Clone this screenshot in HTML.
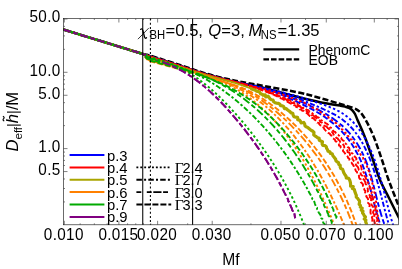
<!DOCTYPE html>
<html><head><meta charset="utf-8"><title>plot</title>
<style>html,body{margin:0;padding:0;background:#fff;}svg{display:block;will-change:transform;font-family:"Liberation Sans",sans-serif;}text{fill:#000;}</style></head><body>
<svg width="402" height="269" viewBox="0 0 402 269">
<rect x="0" y="0" width="402" height="269" fill="#fff"/>
<defs><clipPath id="cp"><rect x="63.50" y="18.50" width="335.10" height="206.30"/></clipPath><clipPath id="cph"><rect x="60" y="18" width="190" height="120"/></clipPath><clipPath id="cpt"><rect x="250" y="18" width="150" height="206.5"/></clipPath><clipPath id="cpx"><rect x="60" y="18" width="86" height="60"/><rect x="161" y="18" width="240" height="206.5"/></clipPath></defs>
<g clip-path="url(#cp)" fill="none" stroke-linejoin="round">
<path d="M63.30 29.50C69.42 31.38 86.72 36.72 100.00 40.80C113.28 44.88 128.83 49.57 143.00 54.00C157.17 58.43 175.50 64.33 185.00 67.40C194.50 70.47 195.00 70.83 200.00 72.40C205.00 73.97 210.00 75.43 215.00 76.80C220.00 78.17 225.00 79.40 230.00 80.60C235.00 81.80 240.00 82.93 245.00 84.00C250.00 85.07 250.83 84.75 260.00 87.00C269.17 89.25 290.00 94.97 300.00 97.50C310.00 100.03 313.33 100.85 320.00 102.20C326.67 103.55 335.77 104.85 340.00 105.60C344.23 106.35 343.82 106.27 345.40 106.70C346.98 107.13 348.30 107.55 349.50 108.20C350.70 108.85 351.68 109.63 352.60 110.60C353.52 111.57 354.22 112.53 355.00 114.00C355.78 115.47 356.13 116.73 357.30 119.40C358.47 122.07 360.55 126.57 362.00 130.00C363.45 133.43 364.17 135.00 366.00 140.00C367.83 145.00 370.67 153.33 373.00 160.00C375.33 166.67 377.33 173.67 380.00 180.00C382.67 186.33 385.92 191.83 389.00 198.00C392.08 204.17 396.33 212.67 398.50 217.00C400.67 221.33 401.42 222.83 402.00 224.00" stroke="#000000" stroke-width="2.50"/>
<path d="M63.30 29.50C69.42 31.38 86.72 36.72 100.00 40.80C113.28 44.88 134.67 51.53 143.00 54.00C151.33 56.47 143.00 53.48 150.00 55.60C157.00 57.72 176.67 64.02 185.00 66.70C193.33 69.38 195.00 70.15 200.00 71.70C205.00 73.25 210.00 74.70 215.00 76.00C220.00 77.30 225.83 78.57 230.00 79.50C234.17 80.43 235.00 80.65 240.00 81.60C245.00 82.55 250.00 83.33 260.00 85.20C270.00 87.07 290.00 90.67 300.00 92.80C310.00 94.93 313.43 96.18 320.00 98.00C326.57 99.82 333.93 102.07 339.40 103.70C344.87 105.33 349.70 106.68 352.80 107.80C355.90 108.92 356.47 109.33 358.00 110.40C359.53 111.47 360.37 111.95 362.00 114.20C363.63 116.45 365.63 119.60 367.80 123.90C369.97 128.20 372.63 133.98 375.00 140.00C377.37 146.02 379.73 153.33 382.00 160.00C384.27 166.67 385.85 172.42 388.60 180.00C391.35 187.58 396.27 199.67 398.50 205.50C400.73 211.33 401.42 213.42 402.00 215.00" stroke="#000000" stroke-width="2.50" stroke-dasharray="6 2.4"/>
<path d="M63.30 29.50C69.42 31.38 86.80 36.73 100.00 40.80C113.20 44.87 134.92 51.56 142.50 53.90C150.08 56.24 144.42 54.50 145.50 54.85C146.58 55.21 147.58 55.56 149.00 56.01C150.42 56.46 152.33 57.04 154.00 57.55C155.67 58.07 157.33 58.59 159.00 59.11C160.67 59.64 162.33 60.16 164.00 60.69C165.67 61.21 167.33 61.74 169.00 62.27C170.67 62.81 172.33 63.34 174.00 63.88C175.67 64.42 177.33 64.96 179.00 65.51C180.67 66.06 182.33 66.61 184.00 67.17C185.67 67.72 187.33 68.29 189.00 68.85C190.67 69.41 192.33 69.98 194.00 70.53C195.67 71.08 197.33 71.63 199.00 72.16C200.67 72.70 202.33 73.22 204.00 73.73C205.67 74.24 207.33 74.73 209.00 75.21C210.67 75.69 212.33 76.16 214.00 76.61C215.67 77.07 217.33 77.51 219.00 77.94C220.67 78.38 222.33 78.80 224.00 79.21C225.67 79.63 227.34 80.04 229.00 80.44C230.66 80.85 232.57 81.31 233.99 81.65C235.41 81.98 236.34 82.18 237.52 82.44C238.69 82.70 239.87 82.96 241.04 83.22C242.21 83.47 243.38 83.72 244.56 83.97C245.73 84.22 246.90 84.47 248.07 84.71C249.24 84.96 250.40 85.21 251.57 85.45C252.74 85.70 253.91 85.94 255.08 86.19C256.25 86.43 257.42 86.68 258.58 86.92C259.75 87.17 260.92 87.42 262.09 87.66C263.26 87.91 264.43 88.17 265.60 88.42C266.77 88.67 267.95 88.93 269.12 89.19C270.29 89.45 271.47 89.71 272.64 89.98C273.82 90.25 274.99 90.52 276.17 90.80C277.35 91.08 278.53 91.36 279.71 91.65C280.89 91.94 282.08 92.23 283.26 92.53C284.45 92.83 285.64 93.14 286.82 93.45C288.01 93.76 289.20 94.07 290.39 94.40C291.58 94.72 292.77 95.05 293.96 95.38C295.14 95.71 296.33 96.05 297.52 96.39C298.71 96.73 299.89 97.08 301.08 97.43C302.26 97.79 303.44 98.14 304.62 98.50C305.80 98.87 306.98 99.23 308.16 99.60C309.33 99.97 310.50 100.35 311.67 100.72C312.84 101.10 314.00 101.49 315.17 101.87C316.33 102.26 317.48 102.65 318.63 103.04C319.79 103.44 320.93 103.83 322.07 104.23C323.21 104.64 324.35 105.04 325.48 105.46C326.60 105.87 327.72 106.29 328.83 106.72C329.94 107.16 331.04 107.60 332.12 108.06C333.20 108.52 334.27 109.00 335.32 109.49C336.37 109.99 337.41 110.50 338.43 111.04C339.44 111.58 340.44 112.14 341.42 112.73C342.39 113.31 343.35 113.93 344.28 114.57C345.21 115.21 346.12 115.89 347.01 116.58C347.89 117.28 348.76 118.01 349.60 118.75C350.44 119.50 351.26 120.28 352.07 121.07C352.87 121.87 353.65 122.69 354.41 123.54C355.17 124.38 355.92 125.24 356.64 126.13C357.37 127.01 358.07 127.92 358.76 128.84C359.45 129.76 360.12 130.70 360.77 131.66C361.42 132.62 362.06 133.59 362.68 134.58C363.30 135.57 363.90 136.58 364.49 137.60C365.08 138.62 365.65 139.65 366.21 140.70C366.77 141.74 367.31 142.80 367.84 143.87C368.37 144.94 368.89 146.02 369.39 147.11C369.90 148.20 370.39 149.30 370.87 150.42C371.35 151.53 371.81 152.65 372.27 153.78C372.72 154.91 373.17 156.04 373.60 157.19C374.04 158.33 374.46 159.49 374.88 160.65C375.29 161.81 375.70 162.97 376.09 164.15C376.49 165.32 376.88 166.49 377.25 167.68C377.63 168.86 378.01 170.05 378.37 171.24C378.74 172.43 379.09 173.62 379.44 174.82C379.80 176.02 380.14 177.22 380.48 178.42C380.82 179.62 381.16 180.82 381.49 182.03C381.82 183.23 382.14 184.44 382.46 185.64C382.78 186.85 383.10 188.05 383.42 189.26C383.73 190.46 384.04 191.66 384.35 192.86C384.66 194.06 384.97 195.26 385.28 196.46C385.59 197.65 385.89 198.85 386.20 200.03C386.50 201.22 386.81 202.41 387.11 203.59C387.42 204.77 387.72 205.94 388.03 207.11C388.34 208.28 388.64 209.44 388.95 210.60C389.26 211.75 389.57 212.90 389.89 214.04C390.20 215.19 390.52 216.32 390.84 217.44C391.17 218.57 391.49 219.68 391.82 220.79C392.15 221.90 392.48 222.99 392.82 224.08C393.16 225.16 393.51 226.24 393.86 227.30C394.21 228.36 394.57 229.41 394.93 230.45C395.30 231.49 395.86 233.02 396.05 233.53" stroke="#0000ff" stroke-width="1.90" stroke-dasharray="2.4 2.4"/>
<path d="M63.30 29.50C69.42 31.38 86.80 36.73 100.00 40.80C113.20 44.87 134.92 51.55 142.50 53.90C150.08 56.25 144.42 54.54 145.50 54.91C146.58 55.28 147.58 55.65 149.00 56.11C150.42 56.56 152.33 57.13 154.00 57.65C155.67 58.17 157.33 58.69 159.00 59.21C160.67 59.73 162.33 60.25 164.00 60.77C165.67 61.30 167.33 61.83 169.00 62.36C170.67 62.89 172.33 63.42 174.00 63.96C175.67 64.50 177.33 65.04 179.00 65.59C180.67 66.13 182.33 66.68 184.00 67.24C185.67 67.79 187.33 68.36 189.00 68.91C190.67 69.47 192.33 70.04 194.00 70.59C195.67 71.14 197.33 71.69 199.00 72.22C200.67 72.75 202.33 73.28 204.00 73.78C205.67 74.29 207.33 74.78 209.00 75.26C210.67 75.74 212.33 76.21 214.00 76.67C215.67 77.12 217.33 77.56 219.00 78.00C220.67 78.43 222.33 78.85 224.00 79.27C225.67 79.69 227.34 80.09 229.00 80.50C230.66 80.90 232.58 81.38 233.99 81.71C235.39 82.04 236.29 82.22 237.44 82.48C238.59 82.73 239.73 82.98 240.88 83.23C242.02 83.48 243.17 83.72 244.31 83.97C245.45 84.21 246.60 84.46 247.74 84.70C248.88 84.95 250.02 85.19 251.16 85.44C252.30 85.69 253.43 85.93 254.57 86.19C255.71 86.44 256.85 86.69 257.98 86.94C259.12 87.20 260.26 87.46 261.39 87.72C262.53 87.98 263.66 88.25 264.80 88.52C265.94 88.79 267.07 89.07 268.21 89.35C269.34 89.64 270.48 89.92 271.62 90.22C272.75 90.52 273.89 90.82 275.03 91.13C276.16 91.45 277.30 91.76 278.44 92.09C279.58 92.42 280.72 92.76 281.86 93.11C283.00 93.46 284.14 93.81 285.28 94.18C286.42 94.54 287.56 94.92 288.70 95.30C289.84 95.68 290.98 96.08 292.12 96.47C293.26 96.87 294.40 97.28 295.53 97.69C296.67 98.10 297.81 98.52 298.94 98.95C300.07 99.37 301.20 99.80 302.33 100.24C303.46 100.68 304.58 101.12 305.71 101.57C306.83 102.02 307.95 102.47 309.06 102.93C310.18 103.38 311.29 103.85 312.40 104.31C313.51 104.78 314.61 105.25 315.71 105.72C316.81 106.19 317.91 106.67 318.99 107.14C320.08 107.62 321.17 108.10 322.25 108.59C323.32 109.07 324.40 109.55 325.46 110.04C326.52 110.54 327.58 111.03 328.62 111.54C329.67 112.05 330.70 112.56 331.72 113.09C332.74 113.61 333.75 114.15 334.75 114.70C335.74 115.26 336.72 115.82 337.68 116.41C338.64 117.00 339.58 117.60 340.51 118.22C341.43 118.85 342.34 119.49 343.22 120.16C344.10 120.83 344.96 121.52 345.80 122.23C346.64 122.95 347.46 123.68 348.26 124.44C349.06 125.20 349.84 125.98 350.61 126.77C351.37 127.57 352.11 128.39 352.83 129.23C353.56 130.06 354.26 130.92 354.95 131.79C355.64 132.67 356.31 133.56 356.97 134.47C357.62 135.38 358.26 136.30 358.88 137.24C359.50 138.18 360.11 139.14 360.70 140.11C361.29 141.08 361.87 142.07 362.43 143.07C362.99 144.07 363.54 145.09 364.07 146.11C364.60 147.14 365.12 148.18 365.63 149.23C366.14 150.28 366.63 151.35 367.11 152.42C367.60 153.49 368.07 154.58 368.53 155.67C368.99 156.76 369.43 157.87 369.87 158.98C370.31 160.09 370.74 161.21 371.15 162.34C371.57 163.46 371.98 164.60 372.38 165.74C372.78 166.88 373.17 168.03 373.55 169.18C373.93 170.34 374.30 171.50 374.67 172.66C375.04 173.82 375.40 174.99 375.75 176.16C376.10 177.33 376.45 178.50 376.79 179.68C377.13 180.86 377.46 182.03 377.79 183.21C378.12 184.39 378.45 185.57 378.77 186.75C379.09 187.93 379.40 189.12 379.72 190.30C380.03 191.48 380.34 192.65 380.65 193.83C380.95 195.01 381.26 196.18 381.56 197.36C381.86 198.53 382.16 199.70 382.46 200.86C382.76 202.03 383.06 203.19 383.36 204.34C383.65 205.50 383.95 206.65 384.25 207.79C384.55 208.94 384.85 210.08 385.15 211.21C385.45 212.34 385.75 213.47 386.05 214.58C386.35 215.70 386.66 216.80 386.97 217.90C387.28 219.00 387.59 220.09 387.90 221.17C388.22 222.25 388.53 223.32 388.86 224.37C389.18 225.43 389.50 226.48 389.84 227.51C390.17 228.54 390.50 229.56 390.85 230.57C391.19 231.58 391.72 233.05 391.90 233.55" stroke="#0000ff" stroke-width="1.90" stroke-dasharray="5.2 2.1 2.4 2.1"/>
<path d="M63.30 29.50C69.42 31.38 86.80 36.73 100.00 40.80C113.20 44.87 134.92 51.54 142.50 53.90C150.08 56.26 144.42 54.58 145.50 54.96C146.58 55.35 147.58 55.74 149.00 56.21C150.42 56.67 152.33 57.23 154.00 57.75C155.67 58.26 157.33 58.78 159.00 59.30C160.67 59.82 162.33 60.34 164.00 60.86C165.67 61.38 167.33 61.91 169.00 62.44C170.67 62.97 172.33 63.50 174.00 64.04C175.67 64.58 177.33 65.12 179.00 65.66C180.67 66.20 182.33 66.75 184.00 67.31C185.67 67.86 187.33 68.42 189.00 68.98C190.67 69.54 192.33 70.10 194.00 70.65C195.67 71.20 197.33 71.74 199.00 72.28C200.67 72.81 202.33 73.33 204.00 73.84C205.67 74.34 207.33 74.84 209.00 75.32C210.67 75.80 212.33 76.27 214.00 76.72C215.67 77.18 217.33 77.62 219.00 78.05C220.67 78.49 222.33 78.91 224.00 79.32C225.67 79.74 227.33 80.14 229.00 80.55C230.67 80.96 232.61 81.43 234.00 81.76C235.39 82.09 236.23 82.27 237.35 82.52C238.47 82.77 239.59 83.01 240.71 83.25C241.83 83.49 242.95 83.73 244.07 83.97C245.19 84.21 246.31 84.44 247.44 84.69C248.56 84.93 249.69 85.18 250.81 85.43C251.93 85.68 253.06 85.94 254.18 86.20C255.31 86.47 256.43 86.74 257.56 87.01C258.68 87.29 259.80 87.57 260.93 87.86C262.05 88.15 263.17 88.44 264.29 88.74C265.41 89.05 266.53 89.35 267.65 89.67C268.77 89.99 269.89 90.31 271.00 90.64C272.12 90.97 273.23 91.31 274.34 91.65C275.45 92.00 276.56 92.35 277.67 92.71C278.78 93.08 279.88 93.45 280.99 93.83C282.09 94.21 283.19 94.59 284.28 94.99C285.38 95.38 286.48 95.79 287.57 96.20C288.66 96.61 289.74 97.03 290.83 97.45C291.91 97.88 292.99 98.31 294.07 98.75C295.14 99.18 296.21 99.63 297.28 100.08C298.35 100.53 299.41 100.98 300.47 101.44C301.53 101.90 302.58 102.37 303.63 102.83C304.68 103.30 305.73 103.78 306.77 104.25C307.80 104.73 308.84 105.21 309.87 105.70C310.89 106.18 311.92 106.67 312.93 107.16C313.95 107.65 314.96 108.14 315.97 108.65C316.97 109.15 317.97 109.65 318.96 110.17C319.95 110.68 320.94 111.21 321.92 111.74C322.90 112.27 323.87 112.82 324.83 113.37C325.80 113.93 326.76 114.49 327.71 115.07C328.65 115.66 329.60 116.25 330.53 116.86C331.47 117.47 332.39 118.10 333.31 118.74C334.23 119.38 335.14 120.05 336.04 120.73C336.94 121.41 337.84 122.11 338.72 122.82C339.60 123.54 340.47 124.27 341.32 125.02C342.18 125.77 343.02 126.54 343.85 127.32C344.68 128.11 345.49 128.91 346.29 129.72C347.08 130.54 347.86 131.37 348.61 132.21C349.37 133.06 350.11 133.92 350.83 134.79C351.55 135.66 352.25 136.55 352.93 137.45C353.61 138.35 354.27 139.27 354.92 140.19C355.56 141.12 356.19 142.06 356.80 143.01C357.41 143.96 358.00 144.92 358.58 145.89C359.15 146.86 359.71 147.84 360.25 148.84C360.79 149.83 361.32 150.83 361.83 151.85C362.34 152.86 362.83 153.88 363.31 154.91C363.79 155.94 364.25 156.98 364.70 158.03C365.14 159.08 365.58 160.13 366.00 161.20C366.42 162.26 366.82 163.33 367.21 164.41C367.61 165.48 367.99 166.56 368.36 167.65C368.73 168.74 369.08 169.84 369.43 170.93C369.78 172.03 370.12 173.14 370.45 174.25C370.78 175.35 371.10 176.47 371.42 177.58C371.74 178.70 372.05 179.82 372.35 180.94C372.65 182.06 372.95 183.19 373.24 184.31C373.54 185.44 373.83 186.57 374.11 187.70C374.40 188.83 374.69 189.96 374.97 191.09C375.25 192.22 375.53 193.35 375.82 194.49C376.10 195.62 376.38 196.75 376.66 197.88C376.95 199.01 377.23 200.14 377.52 201.27C377.81 202.40 378.10 203.52 378.39 204.65C378.69 205.77 378.98 206.89 379.29 208.01C379.59 209.13 379.90 210.24 380.22 211.36C380.54 212.47 380.86 213.57 381.19 214.68C381.53 215.78 381.87 216.88 382.22 217.97C382.57 219.06 382.93 220.15 383.30 221.23C383.67 222.31 384.05 223.38 384.45 224.45C384.84 225.52 385.25 226.58 385.67 227.63C386.09 228.69 386.53 229.73 386.98 230.77C387.43 231.81 388.15 233.34 388.38 233.85" stroke="#0000ff" stroke-width="1.90" stroke-dasharray="7.8 2.6 4.8 2.6"/>
<path d="M63.30 29.50C69.42 31.38 86.80 36.73 100.00 40.80C113.20 44.87 134.92 51.53 142.50 53.90C150.08 56.27 144.42 54.62 145.50 55.02C146.58 55.42 147.58 55.84 149.00 56.31C150.42 56.78 152.33 57.33 154.00 57.84C155.67 58.36 157.33 58.87 159.00 59.39C160.67 59.91 162.33 60.43 164.00 60.95C165.67 61.47 167.33 61.99 169.00 62.52C170.67 63.05 172.33 63.58 174.00 64.12C175.67 64.65 177.33 65.19 179.00 65.73C180.67 66.28 182.33 66.82 184.00 67.38C185.67 67.93 187.33 68.49 189.00 69.04C190.67 69.60 192.33 70.16 194.00 70.71C195.67 71.26 197.33 71.80 199.00 72.33C200.67 72.86 202.33 73.39 204.00 73.89C205.67 74.40 207.33 74.89 209.00 75.37C210.67 75.85 212.33 76.32 214.00 76.78C215.67 77.23 217.33 77.67 219.00 78.11C220.67 78.54 222.33 78.96 224.00 79.38C225.67 79.80 227.33 80.20 229.00 80.61C230.67 81.01 232.62 81.48 234.00 81.81C235.38 82.14 236.19 82.32 237.28 82.56C238.38 82.81 239.47 83.05 240.57 83.28C241.67 83.52 242.76 83.75 243.86 83.99C244.96 84.22 246.06 84.45 247.16 84.68C248.26 84.92 249.36 85.15 250.46 85.39C251.55 85.63 252.65 85.87 253.75 86.11C254.85 86.36 255.95 86.61 257.05 86.87C258.14 87.13 259.24 87.40 260.34 87.68C261.43 87.96 262.53 88.25 263.62 88.55C264.71 88.85 265.80 89.16 266.89 89.49C267.98 89.82 269.07 90.16 270.16 90.52C271.24 90.88 272.33 91.25 273.41 91.64C274.49 92.03 275.57 92.44 276.65 92.86C277.72 93.28 278.80 93.71 279.87 94.15C280.94 94.59 282.00 95.04 283.07 95.50C284.13 95.96 285.19 96.42 286.25 96.89C287.31 97.37 288.36 97.85 289.41 98.33C290.46 98.81 291.50 99.29 292.54 99.78C293.58 100.26 294.62 100.75 295.65 101.23C296.68 101.72 297.71 102.20 298.73 102.69C299.75 103.17 300.77 103.65 301.78 104.14C302.79 104.62 303.79 105.11 304.79 105.60C305.79 106.09 306.78 106.59 307.77 107.09C308.76 107.59 309.74 108.09 310.72 108.61C311.69 109.12 312.66 109.64 313.62 110.17C314.58 110.70 315.54 111.23 316.49 111.78C317.43 112.33 318.37 112.89 319.31 113.46C320.24 114.03 321.17 114.61 322.09 115.21C323.00 115.80 323.91 116.41 324.81 117.03C325.72 117.65 326.61 118.29 327.49 118.94C328.37 119.59 329.25 120.25 330.11 120.92C330.97 121.59 331.82 122.28 332.67 122.98C333.51 123.68 334.34 124.39 335.15 125.11C335.97 125.84 336.78 126.57 337.57 127.32C338.36 128.07 339.14 128.83 339.91 129.60C340.67 130.38 341.42 131.16 342.16 131.96C342.90 132.76 343.62 133.57 344.33 134.39C345.04 135.21 345.74 136.04 346.42 136.89C347.10 137.73 347.77 138.59 348.43 139.45C349.08 140.32 349.72 141.20 350.35 142.09C350.97 142.98 351.59 143.89 352.19 144.80C352.79 145.72 353.37 146.64 353.94 147.58C354.52 148.51 355.07 149.46 355.62 150.42C356.17 151.38 356.70 152.35 357.22 153.33C357.74 154.31 358.24 155.30 358.73 156.31C359.23 157.31 359.70 158.32 360.17 159.35C360.64 160.37 361.09 161.41 361.53 162.45C361.97 163.49 362.40 164.55 362.82 165.61C363.24 166.67 363.64 167.74 364.04 168.82C364.44 169.90 364.82 170.98 365.20 172.07C365.58 173.16 365.95 174.26 366.31 175.37C366.67 176.47 367.02 177.58 367.37 178.69C367.71 179.80 368.05 180.92 368.38 182.04C368.71 183.15 369.04 184.28 369.36 185.40C369.68 186.52 369.99 187.65 370.30 188.78C370.61 189.90 370.92 191.03 371.22 192.16C371.53 193.29 371.83 194.41 372.12 195.54C372.42 196.67 372.72 197.79 373.01 198.91C373.30 200.03 373.60 201.15 373.89 202.27C374.18 203.39 374.47 204.50 374.76 205.61C375.06 206.72 375.35 207.82 375.64 208.92C375.94 210.02 376.23 211.11 376.53 212.19C376.83 213.28 377.13 214.36 377.43 215.43C377.74 216.50 378.04 217.56 378.36 218.62C378.67 219.67 378.99 220.72 379.31 221.75C379.63 222.79 379.96 223.81 380.29 224.83C380.63 225.84 380.97 226.85 381.31 227.84C381.66 228.83 382.02 229.81 382.38 230.77C382.74 231.74 383.31 233.16 383.49 233.63" stroke="#0000ff" stroke-width="1.90" stroke-dasharray="5.6 2.3"/>
<path d="M63.30 29.50C69.42 31.38 86.80 36.73 100.00 40.80C113.20 44.87 134.92 51.55 142.50 53.90C150.08 56.25 144.42 54.54 145.50 54.91C146.58 55.28 147.58 55.65 149.00 56.11C150.42 56.56 152.33 57.13 154.00 57.65C155.67 58.17 157.33 58.69 159.00 59.21C160.67 59.73 162.33 60.25 164.00 60.77C165.67 61.30 167.33 61.83 169.00 62.36C170.67 62.89 172.33 63.42 174.00 63.96C175.67 64.50 177.33 65.04 179.00 65.59C180.67 66.13 182.33 66.68 184.00 67.24C185.67 67.79 187.33 68.36 189.00 68.91C190.67 69.47 192.33 70.04 194.00 70.59C195.67 71.14 197.33 71.69 199.00 72.22C200.67 72.75 202.33 73.28 204.00 73.78C205.67 74.29 207.33 74.78 209.00 75.26C210.67 75.74 212.33 76.21 214.00 76.67C215.67 77.12 217.33 77.56 219.00 78.00C220.67 78.43 223.18 79.06 224.01 79.28L225.41 79.62L226.80 79.96L228.20 80.30L229.60 80.63L231.01 80.97L232.42 81.30L233.82 81.64L235.24 81.97L236.65 82.30L238.06 82.64L239.48 82.97L240.90 83.30L242.31 83.64L243.73 83.97L245.15 84.31L246.57 84.64L248.00 84.98L249.42 85.32L250.84 85.66L252.26 86.01L253.68 86.36L255.11 86.71L256.53 87.06L257.95 87.42L259.37 87.77L260.79 88.14L262.20 88.51L263.62 88.88L265.03 89.25L266.45 89.63L267.86 90.02L269.27 90.41L270.68 90.79L272.09 91.19L273.47 91.66L274.89 92.02L276.28 92.44L277.65 92.97L279.12 93.15L280.49 93.66L281.90 94.03L283.16 94.85L284.61 95.08L285.95 95.66L287.41 95.89L288.69 96.60L290.21 96.66L291.28 97.96L292.85 97.87L294.23 98.32L295.27 99.62L296.81 99.65L298.11 100.28L299.38 100.97L300.80 101.30L301.89 102.41L303.53 102.25L304.79 102.96L306.00 103.76L307.40 104.17L308.73 104.71L309.78 105.80L310.99 106.59L312.13 107.47L313.47 108.00L314.91 108.36L316.05 109.25L317.65 109.36L318.81 110.22L319.68 111.54L320.82 112.41L322.37 112.66L323.18 114.01L324.30 114.91L325.54 115.63L326.66 116.52L328.12 116.96L329.18 117.94L330.69 118.33L331.52 119.61L332.49 120.69L333.80 121.36L334.86 122.34L336.12 123.08L336.79 124.48L338.10 125.18L339.49 125.80L340.19 127.15L340.81 128.56L342.03 129.36L343.45 129.98L344.35 131.10L345.02 132.44L346.15 133.35L347.53 134.04L347.68 135.80L348.90 136.64L350.28 137.36L350.45 139.05L352.02 139.64L352.20 141.30L353.38 142.19L354.31 143.28L355.10 144.47L355.47 145.93L356.37 147.04L357.73 147.85L358.36 149.14L358.41 150.77L359.71 151.64L359.85 153.19L360.53 154.43L361.19 155.67L362.57 156.54L363.09 157.87L363.36 159.31L364.05 160.54L365.21 161.57L365.27 163.09L365.65 164.46L366.59 165.60L367.21 166.88L367.24 168.39L367.50 169.80L368.82 170.84L369.36 172.16L368.84 173.82L370.13 174.91L370.28 176.36L370.83 177.69L370.86 179.17L371.69 180.43L371.32 182.01L372.33 183.24L372.76 184.62L372.62 186.14L372.63 187.62L373.55 188.90L373.74 190.35L374.11 191.76L374.70 193.13L373.91 194.77L374.52 196.14L374.91 197.56L375.13 199.02L375.50 200.45L376.20 201.83L376.09 203.35L376.21 204.83L376.15 206.34L376.44 207.80L376.66 209.27L377.18 210.70L377.38 212.18L378.08 213.59L377.79 215.15L378.02 216.64L378.07 218.15L378.20 219.65L378.57 221.12L378.34 222.68L378.77 224.14L379.75 225.53L379.94 227.04L379.37 228.65L380.23 230.06L380.76 231.52L380.71 233.06L380.67 234.61" stroke="#ff0000" stroke-width="1.90" stroke-dasharray="2.4 2.4"/>
<path d="M63.30 29.50C69.42 31.38 86.80 36.73 100.00 40.80C113.20 44.87 134.92 51.53 142.50 53.90C150.08 56.27 144.42 54.60 145.50 54.99C146.58 55.38 147.58 55.79 149.00 56.26C150.42 56.72 152.33 57.28 154.00 57.80C155.67 58.31 157.33 58.83 159.00 59.34C160.67 59.86 162.33 60.38 164.00 60.90C165.67 61.43 167.33 61.95 169.00 62.48C170.67 63.01 172.33 63.54 174.00 64.08C175.67 64.61 177.33 65.15 179.00 65.70C180.67 66.24 182.33 66.79 184.00 67.34C185.67 67.89 187.33 68.46 189.00 69.01C190.67 69.57 192.33 70.13 194.00 70.68C195.67 71.23 197.33 71.77 199.00 72.30C200.67 72.83 202.33 73.36 204.00 73.87C205.67 74.37 207.33 74.87 209.00 75.35C210.67 75.83 212.33 76.29 214.00 76.75C215.67 77.20 217.34 77.64 219.00 78.08C220.66 78.52 223.16 79.17 223.99 79.39L225.36 79.70L226.73 80.02L228.10 80.33L229.48 80.65L230.85 80.97L232.22 81.30L233.59 81.63L234.96 81.96L236.33 82.30L237.70 82.64L239.07 82.98L240.43 83.33L241.80 83.68L243.16 84.04L244.53 84.40L245.89 84.76L247.25 85.13L248.61 85.50L249.97 85.88L251.32 86.27L252.68 86.66L254.03 87.05L255.38 87.45L256.73 87.86L258.08 88.27L259.42 88.69L260.76 89.11L262.10 89.54L263.44 89.97L264.77 90.42L266.10 90.86L267.43 91.32L268.75 91.78L270.07 92.25L271.38 92.75L272.73 93.16L274.03 93.66L275.29 94.29L276.63 94.69L277.90 95.29L279.16 95.89L280.47 96.38L281.82 96.78L283.15 97.22L284.49 97.64L285.66 98.43L286.94 98.99L288.25 99.49L289.48 100.13L290.63 100.95L292.10 101.11L292.96 102.52L294.62 102.31L295.65 103.36L297.20 103.40L297.98 104.90L299.18 105.58L300.41 106.23L301.98 106.28L302.74 107.75L304.45 107.58L305.52 108.51L306.46 109.64L307.96 109.87L308.92 110.96L310.06 111.76L311.29 112.42L312.37 113.33L313.29 114.44L314.88 114.61L315.80 115.72L316.74 116.80L318.13 117.28L319.27 118.09L320.12 119.27L321.12 120.26L322.41 120.88L323.47 121.80L324.77 122.43L325.83 123.36L327.15 123.98L328.17 124.95L329.04 126.10L329.86 127.27L331.19 127.91L332.37 128.71L332.95 130.15L333.60 131.48L335.11 131.96L335.99 133.07L336.96 134.10L338.24 134.83L339.24 135.82L339.73 137.29L341.19 137.88L341.71 139.30L342.77 140.25L343.94 141.11L344.22 142.72L345.48 143.51L346.64 144.39L347.18 145.76L347.76 147.10L349.10 147.86L349.48 149.33L349.96 150.73L351.10 151.65L351.58 153.03L352.81 153.89L353.49 155.14L354.48 156.18L355.41 157.26L356.40 158.31L356.23 160.08L357.46 160.99L357.87 162.38L358.51 163.64L359.67 164.61L360.71 165.65L361.24 166.98L361.48 168.46L361.79 169.89L363.10 170.81L363.47 172.21L364.30 173.38L365.10 174.57L364.77 176.28L365.72 177.41L365.92 178.86L367.29 179.82L367.31 181.34L367.80 182.68L368.94 183.76L368.91 185.28L369.77 186.48L370.14 187.86L370.86 189.12L370.41 190.77L371.69 191.85L371.53 193.39L372.69 194.53L371.98 196.21L372.74 197.48L372.77 198.94L373.26 200.29L374.37 201.49L374.32 202.97L374.65 204.37L374.40 205.88L375.42 207.14L375.52 208.58L375.16 210.10L376.24 211.38L376.60 212.78L375.70 214.36L376.82 215.67L376.55 217.16L377.15 218.55L377.35 219.99L376.86 221.49L377.49 222.90L377.20 224.37L377.40 225.82L377.23 227.29L377.85 228.73L377.58 230.20L377.20 231.67L377.78 233.14L377.34 234.61" stroke="#ff0000" stroke-width="1.90" stroke-dasharray="5.2 2.1 2.4 2.1"/>
<path d="M63.30 29.50C69.42 31.38 86.80 36.73 100.00 40.80C113.20 44.87 134.92 51.52 142.50 53.90C150.08 56.28 144.42 54.66 145.50 55.07C146.58 55.49 147.58 55.93 149.00 56.41C150.42 56.88 152.33 57.43 154.00 57.94C155.67 58.45 157.33 58.97 159.00 59.48C160.67 60.00 162.33 60.51 164.00 61.03C165.67 61.56 167.33 62.08 169.00 62.61C170.67 63.13 172.33 63.66 174.00 64.20C175.67 64.73 177.33 65.27 179.00 65.81C180.67 66.35 182.33 66.90 184.00 67.45C185.67 68.00 187.33 68.55 189.00 69.11C190.67 69.66 192.33 70.22 194.00 70.77C195.67 71.32 197.33 71.86 199.00 72.39C200.67 72.92 202.33 73.44 204.00 73.95C205.67 74.45 207.33 74.95 209.00 75.43C210.67 75.91 212.33 76.38 214.00 76.83C215.67 77.29 217.34 77.72 219.00 78.16C220.66 78.60 223.16 79.26 223.99 79.48L225.34 79.78L226.70 80.09L228.06 80.40L229.41 80.71L230.77 81.03L232.12 81.35L233.48 81.68L234.83 82.01L236.18 82.34L237.53 82.69L238.88 83.03L240.23 83.38L241.57 83.73L242.92 84.09L244.26 84.46L245.60 84.83L246.94 85.20L248.28 85.58L249.62 85.97L250.95 86.36L252.28 86.76L253.61 87.17L254.94 87.58L256.27 87.99L257.59 88.41L258.91 88.84L260.22 89.28L261.54 89.72L262.85 90.17L264.16 90.62L265.46 91.09L266.77 91.56L268.06 92.03L269.36 92.52L270.66 93.00L271.94 93.50L273.21 94.06L274.48 94.59L275.80 95.00L277.00 95.73L278.28 96.24L279.64 96.56L280.82 97.31L282.22 97.54L283.45 98.17L284.76 98.63L285.95 99.34L286.99 100.34L288.45 100.49L289.38 101.70L290.99 101.59L291.77 103.07L293.30 103.10L294.57 103.66L295.49 104.84L296.78 105.35L297.97 106.03L299.42 106.29L300.67 106.88L301.57 108.06L303.03 108.32L304.00 109.37L305.14 110.15L306.39 110.77L307.36 111.79L308.34 112.81L309.81 113.12L311.07 113.74L311.60 115.37L313.28 115.42L314.26 116.43L315.31 117.35L316.41 118.20L317.12 119.54L318.75 119.73L319.78 120.68L320.39 122.12L321.86 122.55L322.96 123.41L323.43 124.98L324.45 125.93L326.02 126.28L327.09 127.20L327.96 128.31L329.17 129.08L329.74 130.50L330.87 131.35L332.23 131.99L332.95 133.24L333.62 134.54L334.99 135.18L335.75 136.39L336.28 137.80L337.71 138.42L338.32 139.74L339.62 140.49L340.07 141.94L341.63 142.49L342.34 143.73L343.35 144.73L344.12 145.92L344.27 147.58L345.21 148.63L346.39 149.51L347.46 150.47L347.54 152.15L349.23 152.68L349.88 153.95L350.16 155.46L350.87 156.68L352.35 157.40L352.42 159.02L353.28 160.15L354.00 161.36L355.15 162.31L355.69 163.63L356.00 165.07L356.99 166.13L357.95 167.21L358.46 168.54L358.88 169.91L359.99 170.92L360.41 172.28L360.78 173.67L361.16 175.04L362.61 175.91L362.18 177.66L363.15 178.76L364.19 179.84L364.76 181.12L365.36 182.40L365.52 183.85L366.47 184.98L366.61 186.43L367.32 187.67L367.85 188.97L367.82 190.47L367.99 191.88L368.92 193.05L368.73 194.57L370.10 195.61L369.74 197.18L370.97 198.28L371.23 199.66L370.85 201.21L371.43 202.50L371.36 203.95L371.68 205.30L373.01 206.43L372.58 207.95L372.54 209.38L373.80 210.55L372.99 212.12L373.42 213.45L374.37 214.71L374.14 216.15L374.67 217.48L374.55 218.90L374.20 220.34L374.40 221.71L374.94 223.06L374.55 224.48L375.61 225.80L375.28 227.22L375.38 228.60L375.73 229.98L375.14 231.39L375.54 232.78L375.54 234.17" stroke="#ff0000" stroke-width="1.90" stroke-dasharray="7.8 2.6 4.8 2.6"/>
<path d="M63.30 29.50C69.42 31.38 86.80 36.73 100.00 40.80C113.20 44.87 134.92 51.51 142.50 53.90C150.08 56.29 144.42 54.71 145.50 55.16C146.58 55.60 147.58 56.07 149.00 56.56C150.42 57.04 152.33 57.57 154.00 58.09C155.67 58.60 157.33 59.11 159.00 59.62C160.67 60.13 162.33 60.65 164.00 61.17C165.67 61.68 167.33 62.21 169.00 62.73C170.67 63.25 172.33 63.78 174.00 64.31C175.67 64.84 177.33 65.38 179.00 65.92C180.67 66.46 182.33 67.00 184.00 67.55C185.67 68.10 187.33 68.65 189.00 69.21C190.67 69.76 192.33 70.32 194.00 70.86C195.67 71.40 197.33 71.94 199.00 72.47C200.67 73.00 202.33 73.52 204.00 74.03C205.67 74.54 207.33 75.03 209.00 75.51C210.67 75.99 212.33 76.46 214.00 76.91C215.67 77.37 217.34 77.80 219.00 78.24C220.66 78.68 223.15 79.34 223.98 79.55L225.33 79.86L226.67 80.16L228.01 80.47L229.35 80.78L230.69 81.09L232.03 81.41L233.36 81.73L234.70 82.06L236.03 82.39L237.36 82.72L238.69 83.06L240.02 83.41L241.34 83.76L242.67 84.11L243.99 84.47L245.31 84.84L246.63 85.21L247.94 85.59L249.25 85.98L250.56 86.37L251.87 86.77L253.17 87.18L254.48 87.59L255.78 88.01L257.07 88.44L258.36 88.88L259.65 89.32L260.94 89.78L262.23 90.24L263.51 90.70L264.78 91.18L266.06 91.66L267.33 92.16L268.59 92.66L269.86 93.17L271.11 93.69L272.37 94.22L273.63 94.72L274.89 95.25L276.15 95.76L277.29 96.53L278.56 97.04L279.78 97.63L280.94 98.35L282.27 98.73L283.37 99.57L284.68 100.01L285.82 100.76L287.00 101.43L288.12 102.22L289.37 102.76L290.45 103.63L291.85 103.93L293.24 104.25L294.21 105.29L295.67 105.53L296.28 107.14L297.82 107.25L298.84 108.20L299.73 109.33L301.16 109.67L302.09 110.73L303.70 110.82L304.59 111.94L305.93 112.44L306.93 113.39L308.00 114.27L308.99 115.24L310.01 116.18L311.48 116.53L312.06 118.02L313.61 118.29L314.39 119.52L315.50 120.35L316.42 121.40L317.17 122.64L318.81 122.87L319.35 124.34L320.37 125.26L321.89 125.65L322.38 127.15L323.73 127.74L324.33 129.12L325.25 130.14L326.21 131.14L327.30 132.00L328.30 132.96L329.63 133.62L330.42 134.77L331.47 135.69L332.07 137.02L332.84 138.19L334.02 139.00L335.07 139.92L335.53 141.35L336.95 141.97L337.74 143.12L338.83 144.03L339.05 145.62L340.56 146.21L340.76 147.80L341.86 148.71L342.86 149.69L343.12 151.22L344.16 152.17L344.91 153.34L345.64 154.52L346.89 155.34L347.64 156.51L348.08 157.88L349.30 158.75L349.57 160.22L350.37 161.35L351.44 162.33L352.06 163.57L352.89 164.69L353.71 165.82L353.84 167.34L355.13 168.21L355.34 169.68L355.87 170.96L357.07 171.89L356.89 173.54L358.17 174.45L359.00 175.59L359.00 177.12L359.45 178.44L360.70 179.38L360.35 181.05L360.90 182.32L362.05 183.32L363.00 184.43L362.88 185.97L363.06 187.38L364.09 188.46L364.32 189.85L365.43 190.91L365.07 192.50L366.24 193.56L366.73 194.85L366.23 196.46L367.14 197.62L367.97 198.81L368.18 200.18L368.76 201.45L368.09 203.06L369.35 204.15L369.71 205.49L369.37 206.99L369.37 208.39L370.51 209.55L370.61 210.93L370.47 212.36L370.76 213.71L370.83 215.09L372.08 216.27L371.89 217.70L372.48 219.00L372.29 220.42L372.40 221.80L372.14 223.21L372.67 224.54L372.90 225.90L372.58 227.31L373.14 228.65L373.41 230.01L372.77 231.43L373.32 232.78L373.33 234.17" stroke="#ff0000" stroke-width="1.90" stroke-dasharray="5.6 2.3"/>
<path d="M63.30 29.50C69.42 31.38 86.80 36.73 100.00 40.80C113.20 44.87 134.92 51.43 142.50 53.90C150.08 56.37 144.42 55.02 145.50 55.60C146.58 56.17 147.58 56.81 149.00 57.36C150.42 57.90 152.33 58.36 154.00 58.86C155.67 59.36 157.33 59.85 159.00 60.35C160.67 60.86 162.33 61.36 164.00 61.87C165.67 62.37 167.33 62.88 169.00 63.39C170.67 63.91 172.33 64.42 174.00 64.94C175.67 65.46 177.33 65.98 179.00 66.51C180.67 67.04 182.33 67.57 184.00 68.11C185.67 68.64 187.33 69.19 189.00 69.73C190.67 70.26 192.33 70.81 194.00 71.34C195.67 71.88 197.33 72.40 199.00 72.92C200.67 73.44 202.33 73.96 204.00 74.47C205.67 74.98 207.34 75.47 209.00 75.95C210.66 76.44 213.15 77.14 213.97 77.38L215.50 77.77L217.03 78.15L218.55 78.53L220.07 78.91L221.58 79.30L223.09 79.68L224.60 80.07L226.10 80.46L227.60 80.85L229.09 81.26L230.58 81.66L232.06 82.08L233.54 82.50L235.02 82.94L236.49 83.38L237.96 83.83L239.42 84.30L240.88 84.78L242.33 85.27L243.78 85.78L245.22 86.30L246.65 86.85L248.10 87.37L249.52 87.96L250.97 88.49L252.33 89.23L253.86 89.60L255.27 90.23L256.57 91.11L258.06 91.58L259.55 92.08L260.50 93.63L261.98 94.16L263.15 95.27L265.19 94.78L265.76 96.95L268.03 96.13L269.10 97.42L270.06 98.85L271.37 99.72L273.04 100.00L273.77 101.79L275.04 102.69L276.66 103.09L278.42 103.29L279.79 104.10L280.61 105.68L282.41 105.87L283.78 106.69L284.35 108.59L286.26 108.68L287.41 109.78L288.69 110.72L289.98 111.65L291.07 112.84L292.80 113.22L293.17 115.27L293.99 116.77L295.70 117.19L297.61 117.40L297.70 119.72L299.45 120.13L300.49 121.34L301.13 123.00L303.73 122.48L304.63 123.85L304.97 125.80L306.13 126.87L307.74 127.47L308.95 128.49L310.16 129.51L311.42 130.48L312.91 131.22L313.97 132.39L313.71 134.83L314.89 135.87L316.26 136.72L317.55 137.66L319.17 138.30L319.28 140.32L320.82 141.03L322.45 141.68L322.12 144.04L322.89 145.43L325.08 145.60L326.26 146.65L326.62 148.38L327.52 149.65L328.02 151.24L329.94 151.70L330.31 153.38L332.30 153.80L332.72 155.44L333.70 156.64L334.55 157.95L335.60 159.10L335.90 160.79L337.10 161.84L338.53 162.73L338.82 164.41L340.21 165.34L340.22 167.19L340.83 168.63L342.60 169.33L343.10 170.84L343.62 172.34L344.38 173.68L345.12 175.03L346.05 176.28L346.30 177.92L348.63 178.36L349.47 179.67L350.03 181.14L350.41 182.69L350.62 184.33L350.56 186.10L353.22 186.48L352.45 188.60L354.35 189.39L354.66 190.97L355.15 192.45L355.71 193.90L356.32 195.33L356.28 197.04L357.59 198.17L358.36 199.53L359.45 200.77L359.52 202.42L359.13 204.25L360.41 205.43L360.27 207.14L362.18 208.10L361.23 210.11L362.96 211.16L362.56 212.95L363.61 214.25L364.16 215.73L365.44 216.98L364.23 218.99L365.87 220.15L365.64 221.86L366.31 223.32L366.43 224.93L367.53 226.28L367.42 227.95L368.84 229.25L367.36 231.24L368.05 232.71L368.88 234.17" stroke="#aaa500" stroke-width="1.90" clip-path="url(#cph)"/>
<path d="M63.30 29.50C69.42 31.38 86.80 36.73 100.00 40.80C113.20 44.87 134.92 51.43 142.50 53.90C150.08 56.37 144.42 55.02 145.50 55.60C146.58 56.17 147.58 56.81 149.00 57.36C150.42 57.90 152.33 58.36 154.00 58.86C155.67 59.36 157.33 59.85 159.00 60.35C160.67 60.86 162.33 61.36 164.00 61.87C165.67 62.37 167.33 62.88 169.00 63.39C170.67 63.91 172.33 64.42 174.00 64.94C175.67 65.46 177.33 65.98 179.00 66.51C180.67 67.04 182.33 67.57 184.00 68.11C185.67 68.64 187.33 69.19 189.00 69.73C190.67 70.26 192.33 70.81 194.00 71.34C195.67 71.88 197.33 72.40 199.00 72.92C200.67 73.44 202.33 73.96 204.00 74.47C205.67 74.98 207.34 75.47 209.00 75.95C210.66 76.44 213.15 77.14 213.97 77.38L215.50 77.77L217.03 78.15L218.55 78.53L220.07 78.91L221.58 79.30L223.09 79.68L224.60 80.07L226.10 80.46L227.60 80.85L229.09 81.26L230.58 81.66L232.06 82.08L233.54 82.50L235.02 82.94L236.49 83.38L237.96 83.83L239.42 84.30L240.88 84.78L242.33 85.27L243.78 85.78L245.22 86.30L246.65 86.85L248.10 87.37L249.52 87.96L250.97 88.49L252.33 89.23L253.86 89.60L255.27 90.23L256.57 91.11L258.06 91.58L259.55 92.08L260.50 93.63L261.98 94.16L263.15 95.27L265.19 94.78L265.76 96.95L268.03 96.13L269.10 97.42L270.06 98.85L271.37 99.72L273.04 100.00L273.77 101.79L275.04 102.69L276.66 103.09L278.42 103.29L279.79 104.10L280.61 105.68L282.41 105.87L283.78 106.69L284.35 108.59L286.26 108.68L287.41 109.78L288.69 110.72L289.98 111.65L291.07 112.84L292.80 113.22L293.17 115.27L293.99 116.77L295.70 117.19L297.61 117.40L297.70 119.72L299.45 120.13L300.49 121.34L301.13 123.00L303.73 122.48L304.63 123.85L304.97 125.80L306.13 126.87L307.74 127.47L308.95 128.49L310.16 129.51L311.42 130.48L312.91 131.22L313.97 132.39L313.71 134.83L314.89 135.87L316.26 136.72L317.55 137.66L319.17 138.30L319.28 140.32L320.82 141.03L322.45 141.68L322.12 144.04L322.89 145.43L325.08 145.60L326.26 146.65L326.62 148.38L327.52 149.65L328.02 151.24L329.94 151.70L330.31 153.38L332.30 153.80L332.72 155.44L333.70 156.64L334.55 157.95L335.60 159.10L335.90 160.79L337.10 161.84L338.53 162.73L338.82 164.41L340.21 165.34L340.22 167.19L340.83 168.63L342.60 169.33L343.10 170.84L343.62 172.34L344.38 173.68L345.12 175.03L346.05 176.28L346.30 177.92L348.63 178.36L349.47 179.67L350.03 181.14L350.41 182.69L350.62 184.33L350.56 186.10L353.22 186.48L352.45 188.60L354.35 189.39L354.66 190.97L355.15 192.45L355.71 193.90L356.32 195.33L356.28 197.04L357.59 198.17L358.36 199.53L359.45 200.77L359.52 202.42L359.13 204.25L360.41 205.43L360.27 207.14L362.18 208.10L361.23 210.11L362.96 211.16L362.56 212.95L363.61 214.25L364.16 215.73L365.44 216.98L364.23 218.99L365.87 220.15L365.64 221.86L366.31 223.32L366.43 224.93L367.53 226.28L367.42 227.95L368.84 229.25L367.36 231.24L368.05 232.71L368.88 234.17" stroke="#aaa500" stroke-width="3.20" clip-path="url(#cpt)"/>
<path d="M63.30 29.50C69.42 31.38 86.80 36.73 100.00 40.80C113.20 44.87 134.92 51.28 142.50 53.90C150.08 56.52 144.42 55.67 145.50 56.53C146.58 57.39 147.58 58.40 149.00 59.06C150.42 59.72 152.33 60.02 154.00 60.50C155.67 60.97 157.33 61.44 159.00 61.92C160.67 62.39 162.33 62.87 164.00 63.35C165.67 63.83 167.33 64.32 169.00 64.80C170.67 65.29 172.33 65.78 174.00 66.27C175.67 66.77 177.33 67.26 179.00 67.77C180.67 68.27 182.34 68.77 184.00 69.28C185.66 69.80 187.61 70.42 188.98 70.84C190.35 71.26 191.14 71.49 192.22 71.82C193.30 72.14 194.38 72.47 195.45 72.79C196.53 73.11 197.60 73.43 198.66 73.76C199.73 74.09 200.80 74.41 201.86 74.74C202.92 75.07 203.98 75.40 205.03 75.74C206.09 76.07 207.14 76.41 208.18 76.76C209.23 77.11 210.27 77.46 211.31 77.82C212.35 78.18 213.38 78.55 214.41 78.93C215.44 79.30 216.47 79.69 217.49 80.08C218.50 80.48 219.52 80.88 220.53 81.30C221.54 81.72 222.55 82.15 223.54 82.59C224.54 83.03 225.54 83.49 226.53 83.96C227.52 84.43 228.50 84.91 229.48 85.41C230.45 85.90 231.43 86.41 232.39 86.93C233.36 87.46 234.32 87.99 235.27 88.53C236.23 89.08 237.18 89.64 238.12 90.21C239.06 90.78 240.00 91.36 240.93 91.95C241.86 92.55 242.79 93.15 243.71 93.77C244.63 94.38 245.54 95.01 246.45 95.64C247.35 96.28 248.26 96.93 249.15 97.59C250.04 98.25 250.93 98.91 251.81 99.59C252.70 100.27 253.57 100.96 254.44 101.66C255.31 102.36 256.17 103.06 257.03 103.78C257.88 104.50 258.73 105.22 259.57 105.96C260.42 106.69 261.25 107.44 262.08 108.19C262.91 108.94 263.73 109.70 264.55 110.47C265.36 111.24 266.17 112.02 266.97 112.80C267.77 113.59 268.57 114.38 269.35 115.18C270.14 115.98 270.92 116.78 271.69 117.60C272.47 118.41 273.23 119.23 273.99 120.06C274.75 120.89 275.50 121.73 276.25 122.57C276.99 123.41 277.73 124.26 278.46 125.11C279.19 125.96 279.92 126.82 280.63 127.69C281.35 128.56 282.06 129.43 282.77 130.31C283.47 131.19 284.17 132.07 284.86 132.96C285.55 133.85 286.24 134.75 286.92 135.65C287.60 136.55 288.27 137.46 288.93 138.37C289.60 139.28 290.26 140.20 290.92 141.12C291.57 142.04 292.22 142.96 292.86 143.90C293.50 144.83 294.14 145.76 294.77 146.70C295.40 147.64 296.02 148.59 296.64 149.53C297.26 150.48 297.87 151.44 298.48 152.39C299.09 153.35 299.69 154.31 300.29 155.27C300.88 156.24 301.47 157.20 302.06 158.18C302.64 159.15 303.22 160.12 303.80 161.10C304.37 162.08 304.94 163.06 305.51 164.04C306.07 165.03 306.63 166.01 307.19 167.00C307.74 167.99 308.29 168.99 308.84 169.98C309.38 170.97 309.92 171.97 310.46 172.97C310.99 173.97 311.52 174.97 312.05 175.98C312.57 176.98 313.09 177.99 313.61 178.99C314.13 180.00 314.64 181.01 315.15 182.02C315.65 183.03 316.16 184.04 316.66 185.06C317.16 186.07 317.65 187.09 318.14 188.10C318.63 189.12 319.12 190.13 319.60 191.15C320.08 192.17 320.56 193.19 321.04 194.21C321.51 195.23 321.98 196.25 322.45 197.27C322.92 198.29 323.38 199.31 323.84 200.33C324.30 201.35 324.75 202.37 325.20 203.39C325.66 204.41 326.11 205.43 326.55 206.45C327.00 207.47 327.44 208.48 327.88 209.50C328.32 210.52 328.75 211.54 329.18 212.56C329.61 213.57 330.04 214.59 330.47 215.60C330.89 216.62 331.32 217.63 331.74 218.64C332.16 219.66 332.57 220.67 332.99 221.68C333.40 222.69 333.81 223.69 334.22 224.70C334.63 225.71 335.04 226.71 335.44 227.71C335.84 228.71 336.24 229.71 336.64 230.71C337.04 231.71 337.63 233.20 337.83 233.70" stroke="#ff8000" stroke-width="1.90" stroke-dasharray="2.4 2.4"/>
<path d="M63.30 29.50C69.42 31.38 86.80 36.73 100.00 40.80C113.20 44.87 134.92 51.22 142.50 53.90C150.08 56.58 144.42 55.90 145.50 56.86C146.58 57.82 147.58 58.95 149.00 59.66C150.42 60.36 152.33 60.60 154.00 61.07C155.67 61.54 157.33 62.00 159.00 62.47C160.67 62.93 162.33 63.40 164.00 63.88C165.67 64.35 167.33 64.82 169.00 65.30C170.67 65.78 172.33 66.26 174.00 66.74C175.67 67.23 177.33 67.72 179.00 68.21C180.67 68.70 182.33 69.20 184.00 69.70C185.67 70.20 187.34 70.71 189.00 71.22C190.66 71.72 192.60 72.31 193.97 72.73C195.35 73.14 196.17 73.38 197.26 73.70C198.35 74.03 199.44 74.35 200.52 74.67C201.61 74.99 202.69 75.31 203.76 75.64C204.84 75.96 205.92 76.28 206.99 76.61C208.06 76.93 209.12 77.26 210.19 77.59C211.25 77.92 212.31 78.26 213.36 78.60C214.42 78.94 215.47 79.28 216.51 79.63C217.56 79.99 218.60 80.34 219.64 80.71C220.68 81.07 221.71 81.44 222.74 81.82C223.77 82.20 224.80 82.59 225.82 82.99C226.84 83.39 227.86 83.79 228.87 84.21C229.88 84.63 230.89 85.06 231.89 85.50C232.89 85.94 233.89 86.39 234.88 86.86C235.88 87.32 236.86 87.80 237.85 88.28C238.83 88.77 239.81 89.27 240.78 89.78C241.75 90.29 242.72 90.81 243.68 91.34C244.65 91.88 245.60 92.42 246.56 92.98C247.51 93.54 248.45 94.11 249.40 94.69C250.34 95.27 251.27 95.87 252.20 96.48C253.13 97.08 254.06 97.70 254.98 98.33C255.89 98.97 256.81 99.61 257.71 100.27C258.62 100.93 259.52 101.60 260.42 102.28C261.31 102.96 262.20 103.66 263.09 104.36C263.97 105.07 264.85 105.79 265.72 106.52C266.59 107.24 267.45 107.98 268.31 108.73C269.17 109.48 270.02 110.23 270.87 111.00C271.71 111.77 272.55 112.54 273.38 113.33C274.22 114.11 275.04 114.90 275.86 115.70C276.68 116.50 277.49 117.30 278.30 118.12C279.10 118.93 279.90 119.75 280.69 120.57C281.48 121.40 282.27 122.23 283.05 123.07C283.82 123.91 284.60 124.75 285.36 125.60C286.13 126.45 286.88 127.31 287.64 128.17C288.39 129.03 289.13 129.90 289.87 130.77C290.61 131.64 291.34 132.52 292.07 133.40C292.80 134.29 293.52 135.18 294.23 136.07C294.94 136.96 295.65 137.86 296.35 138.77C297.05 139.67 297.75 140.58 298.44 141.49C299.12 142.41 299.81 143.33 300.48 144.25C301.16 145.17 301.83 146.10 302.50 147.03C303.16 147.96 303.82 148.90 304.47 149.84C305.13 150.78 305.77 151.72 306.42 152.67C307.06 153.62 307.69 154.57 308.32 155.52C308.95 156.48 309.58 157.44 310.20 158.40C310.82 159.36 311.43 160.33 312.04 161.30C312.65 162.26 313.25 163.24 313.85 164.21C314.44 165.19 315.04 166.16 315.62 167.15C316.21 168.13 316.79 169.11 317.37 170.10C317.94 171.08 318.51 172.07 319.08 173.06C319.64 174.06 320.20 175.05 320.76 176.05C321.32 177.04 321.87 178.04 322.41 179.04C322.96 180.04 323.50 181.04 324.03 182.05C324.57 183.05 325.10 184.06 325.63 185.06C326.15 186.07 326.67 187.08 327.19 188.09C327.71 189.10 328.22 190.11 328.73 191.12C329.23 192.14 329.74 193.15 330.24 194.17C330.73 195.18 331.23 196.20 331.72 197.21C332.21 198.23 332.69 199.25 333.17 200.27C333.65 201.28 334.13 202.30 334.60 203.32C335.07 204.34 335.54 205.36 336.01 206.38C336.47 207.40 336.93 208.42 337.38 209.44C337.84 210.46 338.29 211.48 338.74 212.49C339.19 213.51 339.63 214.53 340.07 215.55C340.51 216.57 340.94 217.59 341.38 218.60C341.81 219.62 342.24 220.64 342.66 221.65C343.08 222.67 343.50 223.68 343.92 224.70C344.34 225.71 344.75 226.72 345.16 227.73C345.57 228.74 345.98 229.75 346.38 230.76C346.78 231.77 347.38 233.28 347.58 233.78" stroke="#ff8000" stroke-width="1.90" stroke-dasharray="5.2 2.1 2.4 2.1"/>
<path d="M63.30 29.50C69.42 31.38 86.80 36.73 100.00 40.80C113.20 44.87 134.92 51.17 142.50 53.90C150.08 56.63 144.42 56.13 145.50 57.19C146.58 58.25 147.58 59.51 149.00 60.26C150.42 61.00 152.33 61.19 154.00 61.65C155.67 62.11 157.33 62.56 159.00 63.02C160.67 63.48 162.33 63.94 164.00 64.40C165.67 64.86 167.33 65.33 169.00 65.80C170.67 66.27 172.33 66.74 174.00 67.21C175.67 67.69 177.33 68.17 179.00 68.65C180.67 69.14 182.33 69.63 184.00 70.12C185.67 70.61 187.33 71.11 189.00 71.61C190.67 72.10 192.34 72.61 194.00 73.09C195.66 73.58 197.60 74.12 198.97 74.53C200.35 74.94 201.17 75.23 202.27 75.56C203.37 75.90 204.46 76.22 205.55 76.54C206.64 76.86 207.73 77.17 208.82 77.48C209.91 77.79 210.99 78.10 212.07 78.40C213.15 78.70 214.23 79.00 215.30 79.31C216.38 79.61 217.45 79.91 218.52 80.22C219.59 80.53 220.65 80.84 221.71 81.15C222.77 81.47 223.83 81.79 224.88 82.12C225.94 82.46 226.99 82.79 228.03 83.14C229.08 83.50 230.12 83.86 231.16 84.23C232.19 84.61 233.23 85.00 234.26 85.40C235.28 85.81 236.31 86.23 237.33 86.67C238.35 87.10 239.36 87.56 240.37 88.02C241.38 88.49 242.39 88.97 243.39 89.47C244.39 89.96 245.39 90.47 246.38 91.00C247.37 91.52 248.36 92.06 249.34 92.61C250.32 93.16 251.30 93.72 252.27 94.29C253.24 94.87 254.20 95.46 255.17 96.06C256.13 96.66 257.08 97.27 258.03 97.89C258.98 98.51 259.93 99.15 260.87 99.79C261.81 100.43 262.75 101.09 263.68 101.75C264.60 102.42 265.53 103.09 266.45 103.78C267.37 104.46 268.28 105.16 269.19 105.86C270.09 106.56 270.99 107.27 271.89 107.99C272.79 108.71 273.68 109.44 274.56 110.17C275.44 110.91 276.32 111.65 277.20 112.40C278.07 113.15 278.94 113.91 279.80 114.67C280.66 115.44 281.51 116.21 282.36 116.99C283.21 117.76 284.05 118.54 284.89 119.33C285.72 120.12 286.55 120.91 287.38 121.71C288.20 122.51 289.02 123.31 289.83 124.12C290.64 124.93 291.44 125.74 292.24 126.56C293.04 127.38 293.84 128.20 294.62 129.03C295.41 129.86 296.19 130.69 296.96 131.53C297.74 132.37 298.50 133.21 299.27 134.06C300.03 134.91 300.78 135.76 301.53 136.62C302.28 137.48 303.03 138.34 303.76 139.21C304.50 140.08 305.23 140.95 305.96 141.83C306.68 142.70 307.40 143.59 308.11 144.47C308.82 145.36 309.53 146.25 310.23 147.14C310.93 148.04 311.63 148.93 312.31 149.84C313.00 150.74 313.68 151.65 314.36 152.56C315.03 153.47 315.70 154.39 316.37 155.31C317.03 156.23 317.69 157.15 318.34 158.08C318.99 159.01 319.63 159.94 320.27 160.88C320.91 161.82 321.54 162.76 322.17 163.70C322.80 164.65 323.42 165.59 324.03 166.55C324.65 167.50 325.26 168.45 325.86 169.41C326.46 170.37 327.06 171.34 327.65 172.30C328.24 173.27 328.82 174.24 329.40 175.22C329.98 176.19 330.55 177.17 331.11 178.15C331.68 179.13 332.24 180.12 332.79 181.10C333.35 182.09 333.89 183.08 334.43 184.08C334.98 185.07 335.51 186.07 336.04 187.07C336.57 188.07 337.09 189.08 337.61 190.09C338.13 191.09 338.64 192.11 339.14 193.12C339.65 194.13 340.15 195.15 340.64 196.17C341.13 197.19 341.62 198.21 342.10 199.24C342.58 200.27 343.06 201.29 343.52 202.33C343.99 203.36 344.46 204.39 344.91 205.43C345.37 206.47 345.82 207.51 346.27 208.55C346.71 209.59 347.15 210.64 347.58 211.68C348.01 212.73 348.44 213.78 348.86 214.83C349.28 215.89 349.70 216.94 350.11 218.00C350.51 219.06 350.92 220.12 351.31 221.18C351.71 222.24 352.10 223.30 352.49 224.37C352.87 225.44 353.25 226.51 353.62 227.58C353.99 228.65 354.36 229.72 354.72 230.80C355.08 231.87 355.61 233.49 355.79 234.03" stroke="#ff8000" stroke-width="1.90" stroke-dasharray="7.8 2.6 4.8 2.6"/>
<path d="M63.30 29.50C69.42 31.38 86.80 36.73 100.00 40.80C113.20 44.87 134.92 51.11 142.50 53.90C150.08 56.69 144.42 56.36 145.50 57.52C146.58 58.68 147.58 60.07 149.00 60.86C150.42 61.64 152.33 61.78 154.00 62.23C155.67 62.68 157.33 63.12 159.00 63.57C160.67 64.02 162.33 64.47 164.00 64.92C165.67 65.38 167.33 65.83 169.00 66.29C170.67 66.75 172.33 67.22 174.00 67.68C175.67 68.15 177.33 68.62 179.00 69.10C180.67 69.57 182.33 70.05 184.00 70.53C185.67 71.02 187.33 71.51 189.00 72.00C190.67 72.48 192.33 72.98 194.00 73.46C195.67 73.94 197.34 74.39 199.00 74.87C200.66 75.36 202.60 75.97 203.97 76.39C205.35 76.80 206.16 77.06 207.25 77.38C208.34 77.70 209.43 78.01 210.52 78.32C211.61 78.62 212.69 78.92 213.77 79.21C214.86 79.50 215.94 79.79 217.01 80.08C218.09 80.36 219.16 80.64 220.24 80.93C221.31 81.22 222.38 81.50 223.44 81.79C224.51 82.08 225.57 82.37 226.63 82.67C227.69 82.97 228.74 83.27 229.80 83.58C230.85 83.90 231.90 84.22 232.94 84.55C233.98 84.88 235.02 85.23 236.06 85.58C237.10 85.94 238.13 86.31 239.16 86.70C240.18 87.09 241.21 87.50 242.22 87.92C243.24 88.34 244.26 88.78 245.26 89.23C246.27 89.68 247.28 90.15 248.28 90.63C249.28 91.11 250.27 91.61 251.26 92.12C252.25 92.63 253.24 93.15 254.22 93.69C255.20 94.23 256.17 94.78 257.14 95.34C258.11 95.90 259.08 96.48 260.03 97.07C260.99 97.66 261.95 98.26 262.90 98.87C263.85 99.48 264.79 100.10 265.73 100.74C266.67 101.37 267.60 102.02 268.53 102.67C269.46 103.33 270.38 103.99 271.29 104.67C272.21 105.34 273.12 106.02 274.03 106.72C274.93 107.41 275.83 108.11 276.72 108.82C277.62 109.53 278.50 110.25 279.39 110.98C280.27 111.70 281.14 112.44 282.01 113.18C282.88 113.92 283.75 114.67 284.60 115.42C285.46 116.18 286.31 116.94 287.16 117.70C288.00 118.47 288.84 119.24 289.68 120.02C290.51 120.80 291.34 121.58 292.16 122.37C292.98 123.16 293.79 123.95 294.60 124.75C295.40 125.55 296.21 126.35 297.00 127.16C297.80 127.97 298.58 128.78 299.37 129.60C300.15 130.42 300.93 131.24 301.70 132.07C302.46 132.90 303.23 133.74 303.99 134.57C304.74 135.41 305.49 136.26 306.24 137.10C306.98 137.95 307.72 138.81 308.45 139.66C309.18 140.52 309.91 141.38 310.63 142.25C311.35 143.12 312.06 143.99 312.77 144.87C313.47 145.74 314.17 146.62 314.87 147.51C315.56 148.39 316.25 149.28 316.93 150.18C317.61 151.07 318.29 151.97 318.96 152.87C319.62 153.78 320.29 154.68 320.94 155.59C321.60 156.51 322.25 157.42 322.89 158.34C323.54 159.26 324.17 160.19 324.80 161.12C325.43 162.04 326.06 162.98 326.68 163.91C327.29 164.85 327.91 165.79 328.51 166.73C329.12 167.68 329.72 168.63 330.31 169.58C330.90 170.53 331.49 171.49 332.07 172.45C332.65 173.41 333.22 174.37 333.79 175.34C334.36 176.31 334.92 177.28 335.47 178.26C336.03 179.23 336.58 180.21 337.12 181.19C337.66 182.18 338.20 183.16 338.72 184.15C339.25 185.14 339.78 186.13 340.29 187.13C340.81 188.13 341.32 189.13 341.83 190.13C342.33 191.14 342.83 192.14 343.32 193.15C343.81 194.16 344.30 195.18 344.77 196.19C345.25 197.21 345.73 198.23 346.19 199.25C346.66 200.28 347.12 201.30 347.57 202.33C348.02 203.36 348.47 204.40 348.91 205.43C349.35 206.47 349.79 207.51 350.21 208.55C350.64 209.59 351.06 210.63 351.48 211.68C351.89 212.73 352.30 213.78 352.71 214.83C353.11 215.89 353.50 216.94 353.89 218.00C354.28 219.06 354.67 220.12 355.04 221.19C355.42 222.25 355.79 223.32 356.16 224.39C356.52 225.46 356.88 226.53 357.23 227.60C357.58 228.68 357.93 229.75 358.27 230.83C358.61 231.91 359.10 233.54 359.27 234.08" stroke="#ff8000" stroke-width="1.90" stroke-dasharray="5.6 2.3"/>
<path d="M63.30 29.50C69.42 31.38 86.80 36.73 100.00 40.80C113.20 44.87 134.92 51.31 142.50 53.90C150.08 56.49 144.42 55.52 145.50 56.31C146.58 57.10 148.42 58.26 149.00 58.65L150.13 58.87L151.26 59.10L152.38 59.34L153.49 59.59L154.60 59.85L155.71 60.13L156.80 60.42L157.90 60.72L158.99 61.03L160.07 61.36L161.15 61.69L162.22 62.04L163.29 62.40L164.35 62.77L165.41 63.15L166.46 63.54L167.51 63.95L168.55 64.36L169.59 64.78L170.62 65.22L171.65 65.66L172.67 66.12L173.69 66.59L174.70 67.06L175.71 67.55L176.71 68.04L177.71 68.55L178.71 69.06L179.70 69.59L180.68 70.12L181.66 70.66L182.64 71.22L183.61 71.78L184.58 72.35L185.54 72.93L186.49 73.51L187.45 74.11L188.40 74.71L189.34 75.32L190.28 75.95L191.22 76.57L192.15 77.21L193.07 77.85L194.00 78.50L194.91 79.16L195.83 79.83L196.74 80.50L197.64 81.18L198.54 81.87L199.44 82.57L200.34 83.27L201.22 83.98L202.11 84.69L202.99 85.41L203.87 86.14L204.74 86.87L205.61 87.61L206.48 88.36L207.34 89.11L208.20 89.87L209.05 90.63L209.90 91.40L210.75 92.17L211.59 92.95L212.43 93.74L213.26 94.52L214.10 95.32L214.92 96.12L215.75 96.92L216.57 97.73L217.39 98.54L218.20 99.36L219.01 100.18L219.82 101.00L220.62 101.83L221.42 102.66L222.22 103.50L223.01 104.34L223.80 105.18L224.59 106.02L225.37 106.87L226.15 107.72L226.93 108.58L227.70 109.44L228.47 110.30L229.24 111.16L230.01 112.03L230.77 112.89L231.53 113.76L232.28 114.64L233.03 115.51L233.78 116.39L234.53 117.26L235.27 118.14L236.01 119.02L236.75 119.91L237.49 120.79L238.22 121.67L238.95 122.56L239.67 123.45L240.40 124.34L241.12 125.23L241.84 126.12L242.55 127.02L243.26 127.92L243.97 128.81L244.68 129.71L245.38 130.61L246.08 131.52L246.78 132.42L247.47 133.33L248.16 134.23L248.85 135.14L249.53 136.05L250.22 136.97L250.90 137.88L251.57 138.79L252.24 139.71L252.92 140.63L253.58 141.55L254.25 142.47L254.91 143.40L255.57 144.32L256.22 145.25L256.87 146.18L257.52 147.11L258.17 148.04L258.81 148.97L259.45 149.91L260.09 150.85L260.72 151.79L261.36 152.73L261.98 153.67L262.61 154.61L263.23 155.56L263.85 156.51L264.47 157.46L265.08 158.41L265.69 159.36L266.29 160.32L266.90 161.27L267.50 162.23L268.10 163.19L268.69 164.15L269.28 165.12L269.87 166.08L270.46 167.05L271.04 168.02L271.62 168.99L272.19 169.96L272.77 170.94L273.34 171.91L273.90 172.89L274.47 173.87L275.03 174.85L275.58 175.84L276.14 176.82L276.69 177.81L277.24 178.80L277.78 179.79L278.32 180.78L278.86 181.78L279.40 182.77L279.93 183.77L280.46 184.77L280.99 185.77L281.51 186.78L282.03 187.78L282.54 188.79L283.06 189.80L283.57 190.81L284.08 191.83L284.58 192.84L285.12 193.84L285.61 194.87L285.98 195.95L286.61 196.91L287.16 197.90L287.72 198.89L288.18 199.93L288.25 201.15L289.22 201.96L289.62 203.03L290.24 204.00L290.23 205.25L290.88 206.21L291.16 207.33L291.77 208.31L291.97 209.46L292.50 210.48L293.12 211.46L293.26 212.64L294.41 213.40L294.56 214.58L294.76 215.73L294.85 216.93L295.29 217.99L296.39 218.78L296.55 219.95" stroke="#800080" stroke-width="1.90" stroke-dasharray="7.8 2.6 4.8 2.6"/>
<path d="M63.30 29.50C69.42 31.38 86.80 36.73 100.00 40.80C113.20 44.87 134.92 51.49 142.50 53.90C150.08 56.31 144.42 54.79 145.50 55.27C146.58 55.74 147.59 56.25 149.00 56.76C150.41 57.26 152.57 57.85 153.97 58.28C155.36 58.71 156.24 58.98 157.37 59.32C158.49 59.66 159.62 59.98 160.73 60.31C161.85 60.64 162.96 60.96 164.06 61.30C165.16 61.65 166.26 61.99 167.35 62.37C168.44 62.74 169.52 63.13 170.60 63.54C171.68 63.95 172.75 64.39 173.81 64.84C174.88 65.30 175.94 65.77 176.99 66.26C178.04 66.76 179.08 67.27 180.12 67.80C181.16 68.32 182.19 68.87 183.21 69.43C184.24 69.99 185.25 70.57 186.26 71.16C187.27 71.75 188.27 72.35 189.27 72.97C190.26 73.59 191.25 74.22 192.23 74.86C193.21 75.50 194.18 76.15 195.15 76.81C196.12 77.48 197.07 78.15 198.03 78.84C198.98 79.52 199.92 80.22 200.86 80.92C201.80 81.63 202.73 82.34 203.65 83.07C204.58 83.79 205.50 84.52 206.41 85.27C207.32 86.01 208.22 86.76 209.12 87.52C210.02 88.28 210.91 89.05 211.80 89.83C212.68 90.60 213.56 91.39 214.44 92.18C215.31 92.97 216.18 93.77 217.04 94.58C217.90 95.38 218.76 96.20 219.61 97.02C220.46 97.84 221.30 98.66 222.14 99.50C222.98 100.33 223.81 101.16 224.64 102.01C225.46 102.85 226.28 103.70 227.10 104.55C227.92 105.41 228.73 106.27 229.53 107.13C230.34 107.99 231.14 108.86 231.94 109.73C232.73 110.60 233.52 111.48 234.31 112.35C235.10 113.23 235.88 114.11 236.65 115.00C237.43 115.88 238.20 116.77 238.97 117.66C239.73 118.55 240.50 119.44 241.25 120.33C242.01 121.23 242.77 122.12 243.51 123.02C244.26 123.92 245.01 124.82 245.75 125.72C246.49 126.62 247.22 127.53 247.96 128.43C248.69 129.34 249.41 130.25 250.13 131.16C250.86 132.07 251.57 132.98 252.29 133.90C253.00 134.81 253.71 135.73 254.41 136.65C255.12 137.57 255.82 138.49 256.51 139.41C257.21 140.34 257.90 141.27 258.58 142.19C259.27 143.12 259.95 144.06 260.63 144.99C261.30 145.92 261.97 146.86 262.64 147.80C263.31 148.74 263.97 149.68 264.63 150.63C265.29 151.57 265.94 152.52 266.59 153.47C267.24 154.42 267.88 155.37 268.52 156.33C269.16 157.28 269.80 158.24 270.43 159.20C271.06 160.16 271.68 161.13 272.30 162.09C272.92 163.06 273.54 164.03 274.15 165.00C274.76 165.98 275.37 166.95 275.97 167.93C276.57 168.91 277.17 169.89 277.76 170.88C278.36 171.86 278.94 172.85 279.53 173.84C280.11 174.84 280.69 175.83 281.26 176.83C281.84 177.83 282.40 178.83 282.97 179.83C283.53 180.84 284.09 181.85 284.65 182.86C285.20 183.87 285.75 184.88 286.30 185.90C286.84 186.92 287.38 187.94 287.92 188.97C288.45 189.99 288.98 191.02 289.51 192.05C290.03 193.08 290.55 194.12 291.07 195.16C291.58 196.20 292.09 197.24 292.60 198.29C293.11 199.34 293.61 200.39 294.10 201.44C294.60 202.50 295.09 203.56 295.58 204.62C296.06 205.68 296.55 206.75 297.02 207.82C297.50 208.89 297.97 209.96 298.44 211.04C298.90 212.12 299.37 213.20 299.82 214.28C300.28 215.37 300.73 216.46 301.18 217.55C301.63 218.65 302.07 219.74 302.50 220.85C302.94 221.95 303.37 223.06 303.80 224.17C304.23 225.28 304.65 226.39 305.07 227.51C305.48 228.63 305.90 229.76 306.30 230.88C306.71 232.01 307.31 233.71 307.51 234.28" stroke="#00aa00" stroke-width="1.90" stroke-dasharray="2.4 2.4"/>
<path d="M63.30 29.50C69.42 31.38 86.80 36.73 100.00 40.80C113.20 44.87 134.92 51.38 142.50 53.90C150.08 56.42 144.42 55.25 145.50 55.93C146.58 56.60 147.58 57.37 149.00 57.96C150.42 58.54 152.34 58.94 154.00 59.43C155.66 59.93 158.14 60.67 158.97 60.92L160.20 61.27L161.43 61.62L162.65 61.98L163.88 62.33L165.09 62.69L166.31 63.05L167.52 63.41L168.73 63.78L169.93 64.15L171.13 64.52L172.33 64.90L173.52 65.29L174.71 65.68L175.90 66.07L177.09 66.47L178.27 66.88L179.44 67.29L180.62 67.71L181.78 68.14L182.95 68.58L184.11 69.02L185.27 69.46L186.43 69.92L187.58 70.38L188.73 70.86L189.87 71.34L191.01 71.83L192.15 72.32L193.29 72.83L194.42 73.35L195.54 73.87L196.67 74.41L197.79 74.95L198.90 75.51L200.01 76.07L201.12 76.65L202.23 77.23L203.33 77.82L204.42 78.42L205.52 79.03L206.61 79.65L207.69 80.28L208.78 80.92L209.86 81.56L210.93 82.21L212.00 82.87L213.07 83.54L214.13 84.22L215.19 84.90L216.25 85.59L217.30 86.29L218.35 87.00L219.39 87.71L220.43 88.43L221.47 89.16L222.50 89.89L223.53 90.63L224.56 91.38L225.58 92.13L226.59 92.89L227.61 93.66L228.62 94.43L229.62 95.20L230.62 95.99L231.62 96.78L232.61 97.57L233.60 98.37L234.59 99.17L235.57 99.98L236.55 100.80L237.52 101.62L238.49 102.44L239.46 103.27L240.42 104.11L241.37 104.95L242.33 105.79L243.28 106.64L244.22 107.49L245.16 108.35L246.10 109.21L247.03 110.08L247.96 110.95L248.89 111.82L249.81 112.70L250.73 113.59L251.64 114.48L252.55 115.37L253.45 116.27L254.35 117.17L255.25 118.07L256.14 118.98L257.03 119.90L257.91 120.82L258.80 121.74L259.67 122.66L260.54 123.60L261.41 124.53L262.28 125.47L263.14 126.41L263.99 127.36L264.84 128.31L265.69 129.26L266.53 130.22L267.37 131.18L268.21 132.14L269.04 133.11L269.87 134.08L270.69 135.06L271.51 136.04L272.33 137.02L273.14 138.00L273.94 138.99L274.75 139.99L275.54 140.98L276.34 141.98L277.13 142.98L277.91 143.99L278.70 145.00L279.47 146.01L280.25 147.03L281.02 148.04L281.78 149.07L282.54 150.09L283.30 151.12L284.05 152.15L284.80 153.18L285.55 154.22L286.29 155.26L287.03 156.30L287.76 157.34L288.49 158.39L289.21 159.44L289.93 160.49L290.65 161.55L291.36 162.61L292.06 163.67L292.77 164.73L293.47 165.80L294.16 166.86L294.85 167.93L295.54 169.01L296.22 170.08L296.90 171.16L297.57 172.24L298.24 173.32L298.91 174.40L299.57 175.49L300.23 176.58L300.88 177.67L301.53 178.76L302.17 179.85L302.81 180.95L303.45 182.05L304.08 183.15L304.71 184.25L305.33 185.36L305.95 186.46L306.54 187.58L307.19 188.67L307.76 189.80L308.27 190.96L308.94 192.04L309.50 193.17L310.24 194.21L310.84 195.32L311.54 196.38L312.01 197.56L312.21 198.87L313.39 199.68L313.57 201.01L314.41 201.99L314.76 203.22L315.14 204.44L315.59 205.61L315.97 206.82L317.06 207.69L317.05 209.08L317.99 210.02L318.28 211.27L318.65 212.48L319.36 213.52L320.30 214.47L320.66 215.68L321.47 216.68L321.25 218.14L322.44 218.98L322.99 220.10L323.24 221.34L323.15 222.73L324.33 223.58L324.80 224.73L324.77 226.08L325.62 227.07L325.68 228.38L326.68 229.31L327.08 230.48L327.49 231.64L327.62 232.91L328.13 234.04" stroke="#00aa00" stroke-width="1.90" stroke-dasharray="5.2 2.1 2.4 2.1"/>
<path d="M63.30 29.50C69.42 31.38 86.80 36.73 100.00 40.80C113.20 44.87 134.92 51.27 142.50 53.90C150.08 56.53 144.42 55.71 145.50 56.59C146.58 57.46 147.58 58.49 149.00 59.16C150.42 59.82 152.33 60.12 154.00 60.59C155.67 61.07 157.33 61.53 159.00 62.01C160.67 62.48 162.33 62.96 164.00 63.44C165.67 63.92 167.33 64.40 169.00 64.89C170.67 65.37 172.34 65.85 174.00 66.35C175.66 66.85 178.14 67.62 178.97 67.87L180.14 68.20L181.30 68.53L182.46 68.87L183.61 69.21L184.77 69.55L185.92 69.89L187.06 70.24L188.21 70.60L189.35 70.95L190.48 71.32L191.62 71.68L192.75 72.06L193.88 72.43L195.00 72.82L196.12 73.20L197.24 73.60L198.35 74.00L199.46 74.41L200.57 74.82L201.67 75.24L202.77 75.67L203.87 76.10L204.96 76.55L206.05 77.00L207.14 77.45L208.22 77.92L209.30 78.39L210.38 78.87L211.45 79.36L212.52 79.86L213.58 80.36L214.64 80.87L215.70 81.39L216.76 81.92L217.81 82.45L218.86 82.99L219.90 83.54L220.94 84.10L221.98 84.66L223.01 85.23L224.04 85.81L225.06 86.39L226.09 86.98L227.10 87.58L228.12 88.18L229.13 88.80L230.14 89.42L231.14 90.04L232.14 90.67L233.13 91.31L234.13 91.96L235.11 92.61L236.10 93.27L237.08 93.94L238.05 94.61L239.03 95.29L239.99 95.97L240.96 96.66L241.92 97.36L242.88 98.07L243.83 98.78L244.78 99.49L245.72 100.22L246.66 100.95L247.60 101.68L248.53 102.42L249.46 103.17L250.39 103.92L251.31 104.68L252.23 105.45L253.14 106.22L254.05 107.00L254.95 107.78L255.85 108.57L256.75 109.36L257.64 110.16L258.53 110.97L259.41 111.78L260.29 112.59L261.17 113.41L262.04 114.24L262.90 115.07L263.77 115.91L264.63 116.75L265.48 117.60L266.33 118.45L267.18 119.31L268.02 120.18L268.86 121.04L269.69 121.92L270.52 122.79L271.34 123.68L272.17 124.56L272.98 125.46L273.80 126.35L274.60 127.25L275.41 128.16L276.21 129.07L277.00 129.98L277.80 130.90L278.58 131.82L279.37 132.75L280.15 133.68L280.92 134.62L281.69 135.55L282.46 136.50L283.22 137.44L283.98 138.40L284.74 139.35L285.49 140.31L286.23 141.27L286.98 142.24L287.72 143.20L288.45 144.18L289.18 145.15L289.91 146.13L290.63 147.11L291.34 148.10L292.06 149.09L292.77 150.08L293.47 151.08L294.17 152.08L294.87 153.08L295.56 154.08L296.25 155.09L296.94 156.10L297.62 157.11L298.29 158.13L298.97 159.14L299.63 160.16L300.30 161.19L300.96 162.21L301.61 163.24L302.27 164.27L302.91 165.30L303.56 166.34L304.20 167.38L304.83 168.41L305.46 169.46L306.09 170.50L306.71 171.54L307.33 172.59L307.95 173.64L308.56 174.69L309.17 175.74L309.77 176.80L310.37 177.85L310.96 178.91L311.55 179.97L312.14 181.03L312.72 182.09L313.30 183.15L313.88 184.21L314.44 185.28L314.97 186.37L315.55 187.43L316.10 188.50L316.76 189.51L317.08 190.70L317.95 191.60L318.37 192.74L318.72 193.91L319.22 194.99L320.20 195.85L320.34 197.11L320.84 198.19L321.76 199.08L322.05 200.26L322.96 201.15L322.62 202.62L323.96 203.31L323.85 204.67L324.23 205.79L324.70 206.88L325.61 207.76L326.13 208.82L326.53 209.93L326.95 211.03L327.28 212.17L327.69 213.27L328.34 214.26L328.41 215.50L329.24 216.42L329.77 217.46L330.17 218.55L330.76 219.56L331.02 220.71L331.82 221.63L331.63 222.95L332.46 223.86L332.77 224.97L333.36 225.97L333.19 227.26L334.19 228.10L334.70 229.13L334.77 230.32L335.33 231.32L335.66 232.40L335.94 233.50" stroke="#00aa00" stroke-width="1.90" stroke-dasharray="7.8 2.6 4.8 2.6"/>
<path d="M63.30 29.50C69.42 31.38 86.80 36.73 100.00 40.80C113.20 44.87 134.92 51.17 142.50 53.90C150.08 56.63 144.42 56.13 145.50 57.19C146.58 58.25 147.58 59.51 149.00 60.26C150.42 61.00 152.33 61.19 154.00 61.65C155.67 62.11 157.33 62.56 159.00 63.02C160.67 63.48 162.33 63.94 164.00 64.40C165.67 64.86 167.33 65.33 169.00 65.80C170.67 66.27 172.34 66.73 174.00 67.21C175.66 67.69 178.15 68.43 178.98 68.67L180.09 68.98L181.21 69.30L182.32 69.62L183.43 69.94L184.54 70.26L185.65 70.58L186.76 70.91L187.86 71.23L188.96 71.56L190.06 71.89L191.16 72.23L192.25 72.57L193.34 72.91L194.43 73.25L195.52 73.60L196.60 73.95L197.68 74.31L198.76 74.67L199.84 75.03L200.92 75.40L201.99 75.77L203.06 76.14L204.13 76.52L205.19 76.91L206.26 77.30L207.32 77.69L208.37 78.09L209.43 78.50L210.48 78.91L211.53 79.32L212.58 79.74L213.62 80.17L214.66 80.60L215.70 81.03L216.74 81.47L217.77 81.92L218.80 82.37L219.83 82.83L220.85 83.29L221.88 83.76L222.90 84.23L223.91 84.71L224.93 85.20L225.94 85.69L226.94 86.19L227.95 86.69L228.95 87.20L229.95 87.71L230.94 88.23L231.93 88.76L232.92 89.29L233.91 89.83L234.89 90.38L235.87 90.93L236.85 91.49L237.82 92.05L238.79 92.62L239.76 93.20L240.72 93.79L241.68 94.38L242.64 94.97L243.59 95.58L244.54 96.19L245.49 96.81L246.43 97.43L247.37 98.06L248.31 98.70L249.24 99.34L250.17 100.00L251.09 100.65L252.02 101.32L252.93 101.99L253.85 102.67L254.76 103.36L255.67 104.05L256.57 104.75L257.48 105.46L258.37 106.17L259.27 106.89L260.16 107.61L261.04 108.34L261.93 109.08L262.81 109.82L263.68 110.57L264.55 111.33L265.42 112.09L266.29 112.86L267.15 113.63L268.00 114.41L268.86 115.19L269.71 115.98L270.55 116.78L271.40 117.58L272.23 118.39L273.07 119.20L273.90 120.01L274.73 120.84L275.55 121.66L276.37 122.50L277.19 123.33L278.00 124.17L278.81 125.02L279.61 125.87L280.41 126.73L281.21 127.59L282.00 128.46L282.79 129.33L283.57 130.20L284.36 131.08L285.13 131.96L285.91 132.85L286.68 133.74L287.44 134.64L288.20 135.54L288.96 136.44L289.71 137.35L290.46 138.26L291.21 139.17L291.95 140.09L292.69 141.01L293.42 141.94L294.15 142.87L294.88 143.80L295.60 144.74L296.31 145.68L297.03 146.62L297.74 147.57L298.44 148.52L299.14 149.47L299.84 150.42L300.53 151.38L301.22 152.34L301.90 153.31L302.58 154.27L303.26 155.24L303.93 156.21L304.60 157.19L305.26 158.16L305.92 159.14L306.58 160.12L307.23 161.10L307.87 162.09L308.52 163.08L309.16 164.07L309.79 165.06L310.42 166.05L311.04 167.05L311.66 168.04L312.28 169.04L312.89 170.04L313.50 171.04L314.11 172.05L314.70 173.05L315.30 174.06L315.89 175.06L316.48 176.07L317.06 177.08L317.64 178.09L318.21 179.10L318.78 180.12L319.34 181.13L319.90 182.14L320.46 183.16L321.01 184.17L321.55 185.19L322.10 186.20L322.66 187.21L323.16 188.25L323.62 189.30L324.20 190.28L324.62 191.36L325.35 192.26L325.87 193.28L326.31 194.33L326.97 195.27L327.04 196.50L328.04 197.27L328.18 198.46L328.99 199.32L329.30 200.42L330.03 201.32L329.97 202.58L330.85 203.40L331.23 204.46L331.62 205.50L331.78 206.64L332.51 207.53L332.95 208.54L333.43 209.53L333.46 210.71L333.90 211.72L334.19 212.78L334.80 213.70L335.25 214.69L335.54 215.74L336.62 216.47L336.22 217.79L337.02 218.63L337.40 219.63" stroke="#00aa00" stroke-width="1.90" stroke-dasharray="5.6 2.3"/>
<path d="M63.30 29.50C69.42 31.38 86.80 36.73 100.00 40.80C113.20 44.87 134.92 51.31 142.50 53.90C150.08 56.49 144.42 55.52 145.50 56.31C146.58 57.10 148.42 58.26 149.00 58.65L150.13 58.87L151.26 59.10L152.38 59.34L153.49 59.59L154.60 59.85L155.71 60.13L156.80 60.42L157.90 60.72L158.99 61.03L160.07 61.36L161.15 61.69L162.22 62.04L163.29 62.40L164.35 62.77L165.41 63.15L166.46 63.54L167.51 63.95L168.55 64.36L169.59 64.78L170.62 65.22L171.65 65.66L172.67 66.12L173.69 66.59L174.70 67.06L175.71 67.55L176.71 68.04L177.71 68.55L178.71 69.06L179.70 69.59L180.68 70.12L181.66 70.66L182.64 71.22L183.61 71.78L184.58 72.35L185.54 72.93L186.49 73.51L187.45 74.11L188.40 74.71L189.34 75.32L190.28 75.95L191.22 76.57L192.15 77.21L193.07 77.85L194.00 78.50L194.91 79.16L195.83 79.83L196.74 80.50L197.64 81.18L198.54 81.87L199.44 82.57L200.34 83.27L201.22 83.98L202.11 84.69L202.99 85.41L203.87 86.14L204.74 86.87L205.61 87.61L206.48 88.36L207.34 89.11L208.20 89.87L209.05 90.63L209.90 91.40L210.75 92.17L211.59 92.95L212.43 93.74L213.26 94.52L214.10 95.32L214.92 96.12L215.75 96.92L216.57 97.73L217.39 98.54L218.20 99.36L219.01 100.18L219.82 101.00L220.62 101.83L221.42 102.66L222.22 103.50L223.01 104.34L223.80 105.18L224.59 106.02L225.37 106.87L226.15 107.72L226.93 108.58L227.70 109.44L228.47 110.30L229.24 111.16L230.01 112.03L230.77 112.89L231.53 113.76L232.28 114.64L233.03 115.51L233.78 116.39L234.53 117.26L235.27 118.14L236.01 119.02L236.75 119.91L237.49 120.79L238.22 121.67L238.95 122.56L239.67 123.45L240.40 124.34L241.12 125.23L241.84 126.12L242.55 127.02L243.26 127.92L243.97 128.81L244.68 129.71L245.38 130.61L246.08 131.52L246.78 132.42L247.47 133.33L248.16 134.23L248.85 135.14L249.53 136.05L250.22 136.97L250.90 137.88L251.57 138.79L252.24 139.71L252.92 140.63L253.58 141.55L254.25 142.47L254.91 143.40L255.57 144.32L256.22 145.25L256.87 146.18L257.52 147.11L258.17 148.04L258.81 148.97L259.45 149.91L260.09 150.85L260.72 151.79L261.36 152.73L261.98 153.67L262.61 154.61L263.23 155.56L263.85 156.51L264.47 157.46L265.08 158.41L265.69 159.36L266.29 160.32L266.90 161.27L267.50 162.23L268.10 163.19L268.69 164.15L269.28 165.12L269.87 166.08L270.46 167.05L271.04 168.02L271.62 168.99L272.19 169.96L272.77 170.94L273.34 171.91L273.90 172.89L274.47 173.87L275.03 174.85L275.58 175.84L276.14 176.82L276.69 177.81L277.24 178.80L277.78 179.79L278.32 180.78L278.86 181.78L279.40 182.77L279.93 183.77L280.46 184.77L280.99 185.77L281.51 186.78L282.03 187.78L282.54 188.79L283.06 189.80L283.57 190.81L284.08 191.83L284.58 192.84L285.12 193.84L285.61 194.87L285.98 195.95L286.61 196.91L287.16 197.90L287.72 198.89L288.18 199.93L288.25 201.15L289.22 201.96L289.62 203.03L290.24 204.00L290.23 205.25L290.88 206.21L291.16 207.33L291.77 208.31L291.97 209.46L292.50 210.48L293.12 211.46L293.26 212.64L294.41 213.40L294.56 214.58L294.76 215.73L294.85 216.93L295.29 217.99L296.39 218.78L296.55 219.95" stroke="#800080" stroke-width="1.90" stroke-dasharray="7.8 2.6 4.8 2.6" clip-path="url(#cpx)"/>
</g>
<g stroke="#111" stroke-width="0.62" fill="none">
<rect x="63.50" y="18.50" width="335.10" height="206.30"/>
</g>
<g stroke="#3c3c3c" stroke-width="0.65" fill="none">
<path d="M64.30 224.80v-4M64.30 18.50v4"/>
<path d="M118.89 224.80v-4M118.89 18.50v4"/>
<path d="M157.62 224.80v-4M157.62 18.50v4"/>
<path d="M212.21 224.80v-4M212.21 18.50v4"/>
<path d="M280.98 224.80v-4M280.98 18.50v4"/>
<path d="M326.28 224.80v-4M326.28 18.50v4"/>
<path d="M374.30 224.80v-4M374.30 18.50v4"/>
<path d="M80.16 224.80v-1.5M80.16 18.50v1.5"/>
<path d="M94.34 224.80v-1.5M94.34 18.50v1.5"/>
<path d="M107.17 224.80v-1.5M107.17 18.50v1.5"/>
<path d="M127.58 224.80v-1.5M127.58 18.50v1.5"/>
<path d="M135.74 224.80v-1.5M135.74 18.50v1.5"/>
<path d="M143.43 224.80v-1.5M143.43 18.50v1.5"/>
<path d="M150.71 224.80v-1.5M150.71 18.50v1.5"/>
<path d="M187.66 224.80v-1.5M187.66 18.50v1.5"/>
<path d="M250.94 224.80v-1.5M250.94 18.50v1.5"/>
<path d="M305.53 224.80v-1.5M305.53 18.50v1.5"/>
<path d="M344.26 224.80v-1.5M344.26 18.50v1.5"/>
<path d="M360.12 224.80v-1.5M360.12 18.50v1.5"/>
<path d="M387.13 224.80v-1.5M387.13 18.50v1.5"/>
<path d="M63.50 18.97h4M398.60 18.97h-4"/>
<path d="M63.50 72.30h4M398.60 72.30h-4"/>
<path d="M63.50 95.27h4M398.60 95.27h-4"/>
<path d="M63.50 148.60h4M398.60 148.60h-4"/>
<path d="M63.50 171.57h4M398.60 171.57h-4"/>
<path d="M63.50 26.36h1.5M398.60 26.36h-1.5"/>
<path d="M63.50 35.90h1.5M398.60 35.90h-1.5"/>
<path d="M63.50 49.33h1.5M398.60 49.33h-1.5"/>
<path d="M63.50 75.79h1.5M398.60 75.79h-1.5"/>
<path d="M63.50 79.69h1.5M398.60 79.69h-1.5"/>
<path d="M63.50 84.12h1.5M398.60 84.12h-1.5"/>
<path d="M63.50 89.23h1.5M398.60 89.23h-1.5"/>
<path d="M63.50 102.66h1.5M398.60 102.66h-1.5"/>
<path d="M63.50 112.20h1.5M398.60 112.20h-1.5"/>
<path d="M63.50 125.63h1.5M398.60 125.63h-1.5"/>
<path d="M63.50 152.09h1.5M398.60 152.09h-1.5"/>
<path d="M63.50 155.99h1.5M398.60 155.99h-1.5"/>
<path d="M63.50 160.42h1.5M398.60 160.42h-1.5"/>
<path d="M63.50 165.53h1.5M398.60 165.53h-1.5"/>
<path d="M63.50 178.96h1.5M398.60 178.96h-1.5"/>
<path d="M63.50 188.50h1.5M398.60 188.50h-1.5"/>
<path d="M63.50 201.93h1.5M398.60 201.93h-1.5"/>
</g>
<text transform="translate(63.80 239.60) scale(1 1.085)" font-size="15.30" text-anchor="middle" letter-spacing="0.35">0.010</text>
<text transform="translate(118.39 239.60) scale(1 1.085)" font-size="15.30" text-anchor="middle" letter-spacing="0.35">0.015</text>
<text transform="translate(157.12 239.60) scale(1 1.085)" font-size="15.30" text-anchor="middle" letter-spacing="0.35">0.020</text>
<text transform="translate(211.71 239.60) scale(1 1.085)" font-size="15.30" text-anchor="middle" letter-spacing="0.35">0.030</text>
<text transform="translate(280.48 239.60) scale(1 1.085)" font-size="15.30" text-anchor="middle" letter-spacing="0.35">0.050</text>
<text transform="translate(325.78 239.60) scale(1 1.085)" font-size="15.30" text-anchor="middle" letter-spacing="0.35">0.070</text>
<text transform="translate(373.80 239.60) scale(1 1.085)" font-size="15.30" text-anchor="middle" letter-spacing="0.35">0.100</text>
<text transform="translate(60.60 22.27) scale(1 1.085)" font-size="15.30" text-anchor="end" letter-spacing="0.35">50.0</text>
<text transform="translate(60.60 75.60) scale(1 1.085)" font-size="15.30" text-anchor="end" letter-spacing="0.35">10.0</text>
<text transform="translate(60.60 98.57) scale(1 1.085)" font-size="15.30" text-anchor="end" letter-spacing="0.35">5.0</text>
<text transform="translate(60.60 151.90) scale(1 1.085)" font-size="15.30" text-anchor="end" letter-spacing="0.35">1.0</text>
<text transform="translate(60.60 174.87) scale(1 1.085)" font-size="15.30" text-anchor="end" letter-spacing="0.35">0.5</text>
<text x="222.3" y="264.8" font-size="15.6">Mf</text>
<g transform="translate(17.9 151.5) rotate(-90)" font-size="16.6"><text x="0" y="0" font-style="italic">D</text><text x="12.1" y="3.6" font-size="11.8" letter-spacing="-0.25">eff</text><text x="28.3" y="0" font-style="italic">h</text><text x="41.4" y="0">/</text><text x="45.8" y="0">M</text><path d="M26.45 -10.9V2.9M39.45 -10.9V2.9" stroke="#222" stroke-width="1.15" fill="none"/><path d="M30.4 -13.6C31.3 -15.2 32.2 -15.1 32.8 -14.3C33.4 -13.5 34.3 -13.4 35.2 -15.0" stroke="#000" stroke-width="1.1" fill="none"/></g>
<text transform="translate(149.60 38.50) scale(1 1.100)" font-size="11.30" text-anchor="start">BH</text>
<text transform="translate(165.60 35.80) scale(1 1.000)" font-size="16.60" text-anchor="start">=0.5,</text>
<text transform="translate(208.20 35.80) scale(1 1.000)" font-size="16.60" text-anchor="start" font-style="italic">Q</text>
<text transform="translate(221.30 35.80) scale(1 1.000)" font-size="16.60" text-anchor="start">=3,</text>
<text transform="translate(248.40 35.80) scale(1 1.000)" font-size="16.60" text-anchor="start" font-style="italic">M</text>
<text transform="translate(260.80 38.50) scale(1 1.100)" font-size="11.30" text-anchor="start">NS</text>
<text transform="translate(277.60 35.80) scale(1 1.000)" font-size="16.60" text-anchor="start">=1.35</text>
<g stroke="#000" fill="none" stroke-linecap="round">
<path d="M138.2 38.9L148.4 28.4" stroke-width="0.8"/>
<path d="M140.6 29.4C141.6 28.4 142.4 28.7 142.7 30.0L144.6 37.2C144.9 38.4 145.6 38.6 146.5 37.8" stroke-width="1.3"/>
</g>
<g stroke="#000" stroke-width="2.1" fill="none">
<line x1="263.4" y1="49.4" x2="299.2" y2="49.4"/>
<line x1="263.4" y1="59.4" x2="299.2" y2="59.4" stroke-dasharray="5.6 2"/>
</g>
<g font-size="13.9">
<text x="308.6" y="54.5">PhenomC</text>
<text x="308.6" y="64.9">EOB</text>
</g>
<g stroke-width="2.0" fill="none">
<line x1="69.6" y1="155.00" x2="104.4" y2="155.00" stroke="#0000ff"/>
<line x1="69.6" y1="167.40" x2="104.4" y2="167.40" stroke="#ff0000"/>
<line x1="69.6" y1="179.80" x2="104.4" y2="179.80" stroke="#aaa500"/>
<line x1="69.6" y1="192.10" x2="104.4" y2="192.10" stroke="#ff8000"/>
<line x1="69.6" y1="204.50" x2="104.4" y2="204.50" stroke="#00aa00"/>
<line x1="69.6" y1="216.90" x2="104.4" y2="216.90" stroke="#800080"/>
</g>
<text transform="translate(107.00 160.50) scale(1 1.040)" font-size="14.80" text-anchor="start">p.3</text>
<text transform="translate(107.00 172.90) scale(1 1.040)" font-size="14.80" text-anchor="start">p.4</text>
<text transform="translate(107.00 185.30) scale(1 1.040)" font-size="14.80" text-anchor="start">p.5</text>
<text transform="translate(107.00 197.60) scale(1 1.040)" font-size="14.80" text-anchor="start">p.6</text>
<text transform="translate(107.00 210.00) scale(1 1.040)" font-size="14.80" text-anchor="start">p.7</text>
<text transform="translate(107.00 222.40) scale(1 1.040)" font-size="14.80" text-anchor="start">p.9</text>
<g stroke="#000" stroke-width="1.9" fill="none">
<line x1="136.4" y1="167.40" x2="171.2" y2="167.40" stroke-dasharray="1.9 2.0"/>
<line x1="136.4" y1="179.80" x2="171.2" y2="179.80" stroke-dasharray="5.5 2.2 2 2.2"/>
<line x1="136.4" y1="192.10" x2="171.2" y2="192.10" stroke-dasharray="4.9 5.5 4.9 1.6 8.2 1.6 4.9 100"/>
<line x1="136.4" y1="204.50" x2="171.2" y2="204.50" stroke-dasharray="6 2"/>
</g>
<text transform="translate(174.80 172.80) scale(1 1.000)" font-size="15.50" text-anchor="start" font-family="Liberation Serif">&#915;</text>
<text transform="translate(182.40 172.80) scale(1 1.040)" font-size="14.60" text-anchor="start">2.4</text>
<text transform="translate(174.80 185.20) scale(1 1.000)" font-size="15.50" text-anchor="start" font-family="Liberation Serif">&#915;</text>
<text transform="translate(182.40 185.20) scale(1 1.040)" font-size="14.60" text-anchor="start">2.7</text>
<text transform="translate(174.80 197.50) scale(1 1.000)" font-size="15.50" text-anchor="start" font-family="Liberation Serif">&#915;</text>
<text transform="translate(182.40 197.50) scale(1 1.040)" font-size="14.60" text-anchor="start">3.0</text>
<text transform="translate(174.80 209.90) scale(1 1.000)" font-size="15.50" text-anchor="start" font-family="Liberation Serif">&#915;</text>
<text transform="translate(182.40 209.90) scale(1 1.040)" font-size="14.60" text-anchor="start">3.3</text>
<g stroke="#000" fill="none">
<line x1="142.75" y1="18.5" x2="142.75" y2="224.8" stroke-width="1.05"/>
<line x1="192.6" y1="18.5" x2="192.6" y2="224.8" stroke-width="1.05"/>
<line x1="150.4" y1="18.5" x2="150.4" y2="224.8" stroke-width="1.05" stroke-dasharray="2 2.2"/>
</g>
</svg></body></html>
